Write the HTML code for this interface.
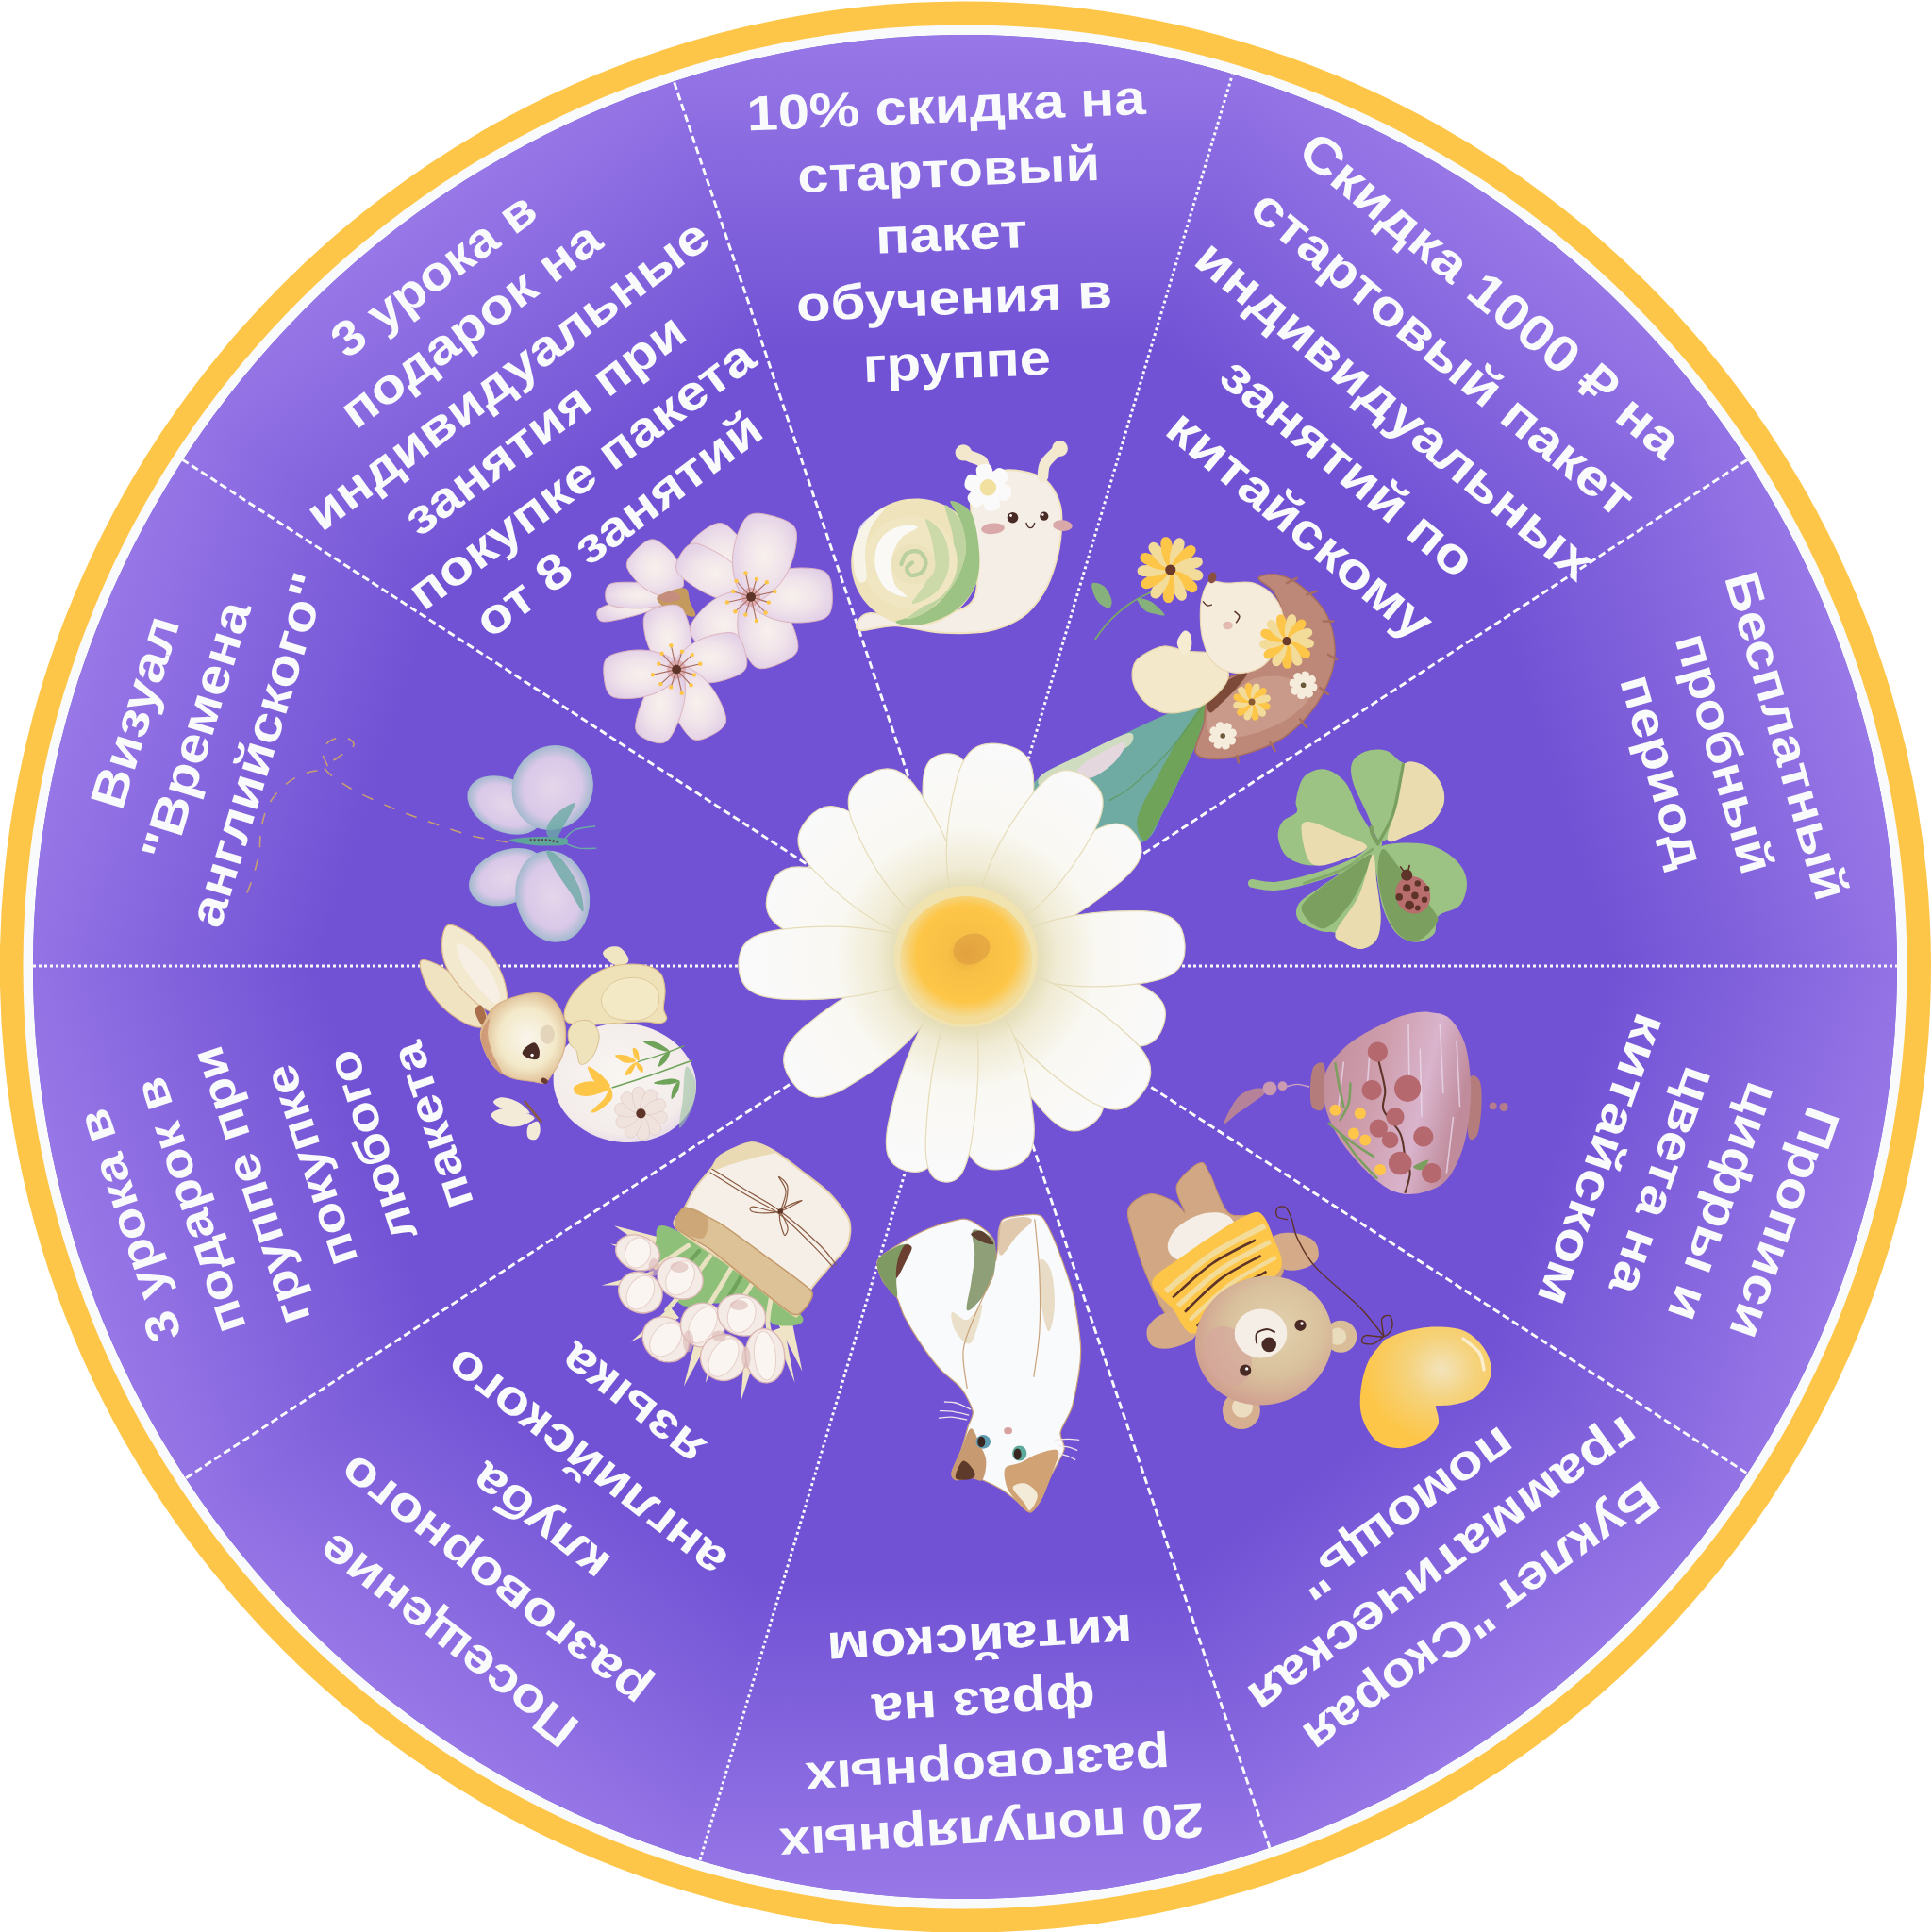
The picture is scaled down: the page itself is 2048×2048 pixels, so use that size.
<!DOCTYPE html>
<html lang="ru"><head><meta charset="utf-8"><title>Колесо подарков</title>
<style>html,body{margin:0;padding:0;background:#fff}body{width:2048px;height:2048px;overflow:hidden}svg{display:block}text{font-family:"Liberation Sans",sans-serif;font-weight:700;fill:#f9fafc}</style></head><body>
<svg width="2048" height="2048" viewBox="0 0 2048 2048">
<defs>
<linearGradient id="s0" gradientUnits="userSpaceOnUse" x1="1023" y1="1025" x2="1962.64" y2="719.69"><stop offset="0" stop-color="#7152d4"/><stop offset="0.66" stop-color="#7152d4"/><stop offset="1" stop-color="#9878e7"/></linearGradient>
<linearGradient id="s1" gradientUnits="userSpaceOnUse" x1="1023" y1="1025" x2="1603.73" y2="225.69"><stop offset="0" stop-color="#7152d4"/><stop offset="0.66" stop-color="#7152d4"/><stop offset="1" stop-color="#9878e7"/></linearGradient>
<linearGradient id="s2" gradientUnits="userSpaceOnUse" x1="1023" y1="1025" x2="1023" y2="37"><stop offset="0" stop-color="#7152d4"/><stop offset="0.66" stop-color="#7152d4"/><stop offset="1" stop-color="#9878e7"/></linearGradient>
<linearGradient id="s3" gradientUnits="userSpaceOnUse" x1="1023" y1="1025" x2="442.27" y2="225.69"><stop offset="0" stop-color="#7152d4"/><stop offset="0.66" stop-color="#7152d4"/><stop offset="1" stop-color="#9878e7"/></linearGradient>
<linearGradient id="s4" gradientUnits="userSpaceOnUse" x1="1023" y1="1025" x2="83.36" y2="719.69"><stop offset="0" stop-color="#7152d4"/><stop offset="0.66" stop-color="#7152d4"/><stop offset="1" stop-color="#9878e7"/></linearGradient>
<linearGradient id="s5" gradientUnits="userSpaceOnUse" x1="1023" y1="1025" x2="83.36" y2="1330.31"><stop offset="0" stop-color="#7152d4"/><stop offset="0.66" stop-color="#7152d4"/><stop offset="1" stop-color="#9878e7"/></linearGradient>
<linearGradient id="s6" gradientUnits="userSpaceOnUse" x1="1023" y1="1025" x2="442.27" y2="1824.31"><stop offset="0" stop-color="#7152d4"/><stop offset="0.66" stop-color="#7152d4"/><stop offset="1" stop-color="#9878e7"/></linearGradient>
<linearGradient id="s7" gradientUnits="userSpaceOnUse" x1="1023" y1="1025" x2="1023" y2="2013"><stop offset="0" stop-color="#7152d4"/><stop offset="0.66" stop-color="#7152d4"/><stop offset="1" stop-color="#9878e7"/></linearGradient>
<linearGradient id="s8" gradientUnits="userSpaceOnUse" x1="1023" y1="1025" x2="1603.73" y2="1824.31"><stop offset="0" stop-color="#7152d4"/><stop offset="0.66" stop-color="#7152d4"/><stop offset="1" stop-color="#9878e7"/></linearGradient>
<linearGradient id="s9" gradientUnits="userSpaceOnUse" x1="1023" y1="1025" x2="1962.64" y2="1330.31"><stop offset="0" stop-color="#7152d4"/><stop offset="0.66" stop-color="#7152d4"/><stop offset="1" stop-color="#9878e7"/></linearGradient>
</defs>
<circle cx="1023.4" cy="1025" r="1023.6" fill="#fdc648"/>
<circle cx="1023" cy="1025" r="998.5" fill="#f9fafc"/>
<circle cx="1023" cy="1025" r="988" fill="#7152d4"/>
<path d="M1023 1025L2010.99 1030.17A988 988 0 0 0 1819.26 440.09Z" fill="url(#s0)"/>
<path d="M1023 1025L1825.34 448.46A988 988 0 0 0 1323.38 83.77Z" fill="url(#s1)"/>
<path d="M1023 1025L1333.22 86.97A988 988 0 0 0 712.78 86.97Z" fill="url(#s2)"/>
<path d="M1023 1025L722.62 83.77A988 988 0 0 0 220.66 448.46Z" fill="url(#s3)"/>
<path d="M1023 1025L226.74 440.09A988 988 0 0 0 35.01 1030.17Z" fill="url(#s4)"/>
<path d="M1023 1025L35.01 1019.83A988 988 0 0 0 226.74 1609.91Z" fill="url(#s5)"/>
<path d="M1023 1025L220.66 1601.54A988 988 0 0 0 722.62 1966.23Z" fill="url(#s6)"/>
<path d="M1023 1025L712.78 1963.03A988 988 0 0 0 1333.22 1963.03Z" fill="url(#s7)"/>
<path d="M1023 1025L1323.38 1966.23A988 988 0 0 0 1825.34 1601.54Z" fill="url(#s8)"/>
<path d="M1023 1025L1819.26 1609.91A988 988 0 0 0 2010.99 1019.83Z" fill="url(#s9)"/>
<g stroke="#f9fafc" fill="none">
<line x1="35" y1="1024" x2="2011" y2="1024" stroke-width="3" stroke-dasharray="3 3"/>
<line x1="197.1" y1="1566.8" x2="1852.8" y2="487.1" stroke-width="2.9" stroke-dasharray="8 4"/>
<line x1="742" y1="1971.7" x2="1306.4" y2="79" stroke-width="3" stroke-dasharray="3 3"/>
<line x1="714.7" y1="87.3" x2="1345.9" y2="1958.7" stroke-width="2.9" stroke-dasharray="8 4"/>
<line x1="193" y1="487" x2="1852.3" y2="1562" stroke-width="2.9" stroke-dasharray="8 4"/>
</g>
<defs><radialGradient id="pg" gradientUnits="userSpaceOnUse" cx="1025" cy="1015" r="240"><stop offset="0.28" stop-color="#e2d9ae"/><stop offset="0.40" stop-color="#f0ebd4"/><stop offset="0.58" stop-color="#f9f8f2"/><stop offset="1" stop-color="#fafafc"/></radialGradient><radialGradient id="dc" cx="0.5" cy="0.45" r="0.5"><stop offset="0" stop-color="#e6a93e"/><stop offset="0.28" stop-color="#f7bf45"/><stop offset="0.75" stop-color="#fdc648"/><stop offset="1" stop-color="#f3dc9a"/></radialGradient><linearGradient id="lg" x1="0" y1="0" x2="1" y2="0.3"><stop offset="0" stop-color="#bf8a98"/><stop offset="0.45" stop-color="#cf9fae"/><stop offset="0.75" stop-color="#d9b4cc"/><stop offset="1" stop-color="#c08c9c"/></linearGradient><radialGradient id="bh" cx="0.6" cy="0.45" r="0.6"><stop offset="0" stop-color="#e3d2ae"/><stop offset="0.6" stop-color="#d9c09c"/><stop offset="1" stop-color="#d0a090"/></radialGradient><radialGradient id="hg" cx="0.62" cy="0.35" r="0.6"><stop offset="0" stop-color="#f3e3bb"/><stop offset="0.45" stop-color="#f5d27a"/><stop offset="1" stop-color="#fdc648"/></radialGradient><radialGradient id="bn" cx="0.55" cy="0.5" r="0.55"><stop offset="0" stop-color="#f9f5ec"/><stop offset="0.6" stop-color="#f3e9c9"/><stop offset="1" stop-color="#dcb88c"/></radialGradient><radialGradient id="eg" cx="0.45" cy="0.45" r="0.6"><stop offset="0" stop-color="#f9f6f2"/><stop offset="0.8" stop-color="#f3ecea"/><stop offset="1" stop-color="#e3d6e6"/></radialGradient><radialGradient id="bw" cx="0.5" cy="0.5" r="0.55"><stop offset="0" stop-color="#e6d6ea"/><stop offset="0.65" stop-color="#d9c8e8"/><stop offset="1" stop-color="#8fb4c4"/></radialGradient><radialGradient id="bp" cx="0.5" cy="0.5" r="0.55"><stop offset="0" stop-color="#f8f1ec"/><stop offset="0.55" stop-color="#f0e3ea"/><stop offset="1" stop-color="#e2cfe6"/></radialGradient></defs>
<g id="leaf">
<path d="M1279.5 743C1274.8 738 1254.9 749.8 1240.8 755.4C1226.7 760.9 1211.2 768.8 1195 776.5C1178.9 784.1 1159.3 793.5 1144 801.1C1128.7 808.7 1112.6 814.3 1103.5 822.2C1094.4 830.2 1087.1 839.5 1089.4 848.6C1091.8 857.7 1103.5 869.2 1117.6 876.8C1131.7 884.4 1157.8 892 1173.9 894.4C1190.1 896.7 1204.4 896.7 1214.4 890.9C1224.4 885 1227.3 870.9 1233.8 859.2C1240.2 847.5 1247.2 832.8 1253.1 820.5C1259 808.2 1264.6 798.2 1269 785.3C1273.4 772.4 1284.2 748 1279.5 743Z" fill="#6faaa3"/>
<path d="M1195 777.4C1185.9 779.4 1159.3 793.6 1144 801.1C1128.7 808.6 1109.7 816.7 1103.5 822.2C1097.4 827.8 1100.9 834.8 1107 834.6C1113.2 834.3 1129.3 825.8 1140.5 820.5C1151.6 815.2 1164.2 808.2 1173.9 802.9C1183.6 797.6 1195 793 1198.6 788.8C1202.1 784.5 1204.1 775.3 1195 777.4Z" fill="#cfdcc0"/>
<path d="M1191.5 787C1186.5 787 1161.3 800.8 1152.8 806.4C1144.3 812 1139.6 817.5 1140.5 820.5C1141.4 823.4 1151 826.3 1158.1 824C1165.1 821.6 1177.1 812.6 1182.7 806.4C1188.3 800.2 1196.5 787 1191.5 787Z" fill="#e4d8de"/>
<path d="M1279.5 743C1282.4 743.9 1273.4 772.4 1269 785.3C1264.6 798.2 1259 808.2 1253.1 820.5C1247.2 832.8 1240.2 847.5 1233.8 859.2C1227.3 870.9 1219.1 889.4 1214.4 890.9C1209.7 892.3 1203.5 879.1 1205.6 868C1207.6 856.8 1219.1 838.7 1226.7 824C1234.3 809.3 1242.6 793.5 1251.4 780C1260.2 766.5 1276.6 742.2 1279.5 743Z" fill="#6fa35a"/>
<path d="M1277.8 744.8C1271.6 753 1254 779.1 1240.8 794.1C1227.6 809 1209.4 825.5 1198.6 834.6C1187.7 843.6 1179.5 846.3 1175.7 848.6" fill="none" stroke="#5f9a62" stroke-width="1.2"/>
</g>
<g id="hedgehog">
<path d="M1225 625.1C1220.6 627.5 1206.8 633.6 1198.6 639.2C1190.3 644.8 1182 652.1 1175.7 658.6C1169.4 665 1163.2 674.7 1160.7 677.9" fill="none" stroke="#7aa868" stroke-width="1.8"/>
<path d="M1158.1 618.1C1160 616.9 1167 618.7 1170.4 621.6C1173.8 624.5 1177.4 631.9 1178.3 635.7C1179.2 639.5 1177.9 643.9 1175.7 644.5C1173.5 645.1 1167.9 641.8 1165.1 639.2C1162.3 636.6 1160.1 632.2 1159 628.6C1157.8 625.1 1156.2 619.3 1158.1 618.1Z" fill="#86b07c"/>
<path d="M1205.6 634.8C1206.8 633.3 1214.8 634.7 1219.7 637.4C1224.5 640.2 1234 649.3 1234.6 651.5C1235.2 653.7 1226.9 651.5 1223.2 650.6C1219.5 649.8 1215.6 648.9 1212.6 646.2C1209.7 643.6 1204.4 636.3 1205.6 634.8Z" fill="#86b07c"/>
<path d="M1243.2 606.1C1249.4 611.7 1258.1 614.3 1267.1 615.4C1272 615.9 1274.7 614 1275.3 611C1275.9 608 1274.1 605.2 1269.5 603.8C1260.7 601.3 1251.7 600.2 1243.9 603Z" fill="#f3dc9a"/>
<path d="M1242 607C1244.8 614.8 1251.3 621.2 1258.8 626.3C1262.9 629 1266.1 628.6 1268.1 626.2C1270 623.8 1269.8 620.6 1266.3 617.1C1259.7 610.8 1252.2 605.7 1244 604.6Z" fill="#fdc648"/>
<path d="M1240.5 607.2C1239.3 615.4 1242.2 624.1 1246.4 632.1C1248.8 636.4 1251.8 637.6 1254.6 636.4C1257.5 635.1 1258.7 632.1 1257.3 627.5C1254.4 618.9 1250.1 610.8 1243.3 606Z" fill="#f3dc9a"/>
<path d="M1239 606.7C1234.2 613.4 1232.7 622.4 1232.7 631.5C1232.8 636.4 1234.9 638.8 1238 639.1C1241.1 639.3 1243.6 637.3 1244.5 632.5C1245.9 623.5 1245.8 614.4 1242.1 606.9Z" fill="#fdc648"/>
<path d="M1238 605.6C1230.5 609.3 1225 616.5 1220.8 624.6C1218.6 629 1219.4 632.1 1222 633.8C1224.6 635.4 1227.8 634.7 1230.8 630.9C1236.3 623.6 1240.4 615.5 1240.6 607.2Z" fill="#f3dc9a"/>
<path d="M1237.6 604.1C1229.3 603.9 1221 607.8 1213.5 613C1209.6 615.8 1208.8 619 1210.3 621.6C1211.9 624.3 1215 625.2 1219.5 623.2C1227.7 619.3 1235.1 614 1239.1 606.7Z" fill="#fdc648"/>
<path d="M1237.9 602.6C1230.6 598.6 1221.5 598.1 1212.5 599.3C1207.7 600 1205.5 602.4 1205.6 605.5C1205.8 608.6 1208.1 610.8 1213 611.1C1222.1 611.4 1231.1 610.3 1238 605.7Z" fill="#f3dc9a"/>
<path d="M1238.9 601.4C1234.3 594.5 1226.5 589.9 1217.9 586.7C1213.3 585 1210.3 586.2 1209 589C1207.7 591.8 1208.7 594.8 1212.9 597.3C1220.8 601.9 1229.3 605 1237.6 604.2Z" fill="#fdc648"/>
<path d="M1240.3 600.8C1239.5 592.5 1234.7 584.8 1228.6 578C1225.3 574.4 1222.1 574 1219.6 575.9C1217.1 577.8 1216.6 581 1219.2 585.1C1224 592.8 1230.1 599.6 1237.9 602.7Z" fill="#f3dc9a"/>
<path d="M1241.9 601C1245 593.2 1244.3 584.2 1242.1 575.3C1240.8 570.6 1238.2 568.8 1235.1 569.3C1232 569.8 1230.1 572.4 1230.4 577.3C1231.2 586.3 1233.4 595.1 1238.8 601.5Z" fill="#fdc648"/>
<path d="M1243.1 601.8C1249.5 596.4 1253.1 588.1 1255.3 579.2C1256.3 574.5 1254.8 571.6 1251.9 570.6C1249 569.6 1246 571 1244 575.5C1240.5 583.9 1238.4 592.7 1240.2 600.8Z" fill="#f3dc9a"/>
<path d="M1243.9 603.2C1252 601.3 1259.1 595.6 1265.1 588.8C1268.3 585.1 1268.3 581.8 1266.1 579.6C1264 577.4 1260.8 577.2 1256.9 580.3C1249.9 586 1243.9 592.9 1241.8 600.9Z" fill="#fdc648"/>
<path d="M1243.9 604.7C1252 606.8 1260.9 605.1 1269.4 601.8C1273.9 600 1275.5 597.1 1274.6 594.2C1273.7 591.2 1270.9 589.6 1266.1 590.5C1257.2 592.3 1248.7 595.6 1243.1 601.7Z" fill="#f3dc9a"/>
<circle cx="1240.8" cy="604" r="5.6" fill="#6b3a2a"/>
<path d="M1334.1 612.8C1335 609.9 1347.3 607.5 1355.2 609.3C1363.1 611 1373.1 616.3 1381.6 623.4C1390.1 630.4 1400.7 641 1406.2 651.5C1411.8 662.1 1414.4 675.6 1415 686.7C1415.6 697.9 1413.9 707.2 1409.8 718.4C1405.6 729.5 1398.6 743 1390.4 753.6C1382.2 764.2 1371.3 774.4 1360.5 781.8C1349.6 789.1 1337 793.8 1325.3 797.6C1313.5 801.4 1299.8 804.6 1290.1 804.6C1280.4 804.6 1269.5 803.8 1267.2 797.6C1264.8 791.4 1273.9 776.8 1276 767.7C1278 758.6 1276.6 750.7 1279.5 743C1282.4 735.4 1285.4 727.8 1293.6 721.9C1301.8 716 1319.4 714.3 1328.8 707.8C1338.2 701.4 1344.9 692.6 1349.9 683.2C1354.9 673.8 1358.7 660.9 1358.7 651.5C1358.7 642.1 1354 633.3 1349.9 626.9C1345.8 620.4 1333.2 615.7 1334.1 612.8Z" fill="#bd8878" stroke="#a86f5e" stroke-width="1.5"/>
<path d="M1307.7 732.5C1316.2 726.6 1322.9 720.7 1332.3 718.4C1341.7 716 1354.6 715.5 1364 718.4C1373.4 721.3 1388.6 728.7 1388.6 736C1388.6 743.3 1375.4 755.1 1364 762.4C1352.6 769.7 1333.2 777.1 1320 780C1306.8 782.9 1291.2 784.4 1284.8 780C1278.3 775.6 1277.5 761.5 1281.3 753.6C1285.1 745.7 1299.2 738.3 1307.7 732.5Z" fill="#c99a8a"/>
<path d="M1279.5 743C1281.9 737.8 1290.1 728.7 1297.1 723.7C1304.2 718.7 1319.4 712.2 1321.8 713.1C1324.1 714 1315.9 723.4 1311.2 729C1306.5 734.5 1298.3 742.2 1293.6 746.6C1288.9 751 1285.4 755.9 1283 755.4C1280.7 754.8 1277.2 748.3 1279.5 743Z" fill="#7d4a3a"/>
<line x1="1364" y1="618.1" x2="1374.6" y2="612.8" stroke="#a86f5e" stroke-width="2.5" stroke-linecap="round"/>
<line x1="1385.1" y1="630.4" x2="1395.7" y2="626.9" stroke="#a86f5e" stroke-width="2.5" stroke-linecap="round"/>
<line x1="1402.7" y1="658.6" x2="1413.3" y2="658.6" stroke="#a86f5e" stroke-width="2.5" stroke-linecap="round"/>
<line x1="1408" y1="693.8" x2="1416.8" y2="699" stroke="#a86f5e" stroke-width="2.5" stroke-linecap="round"/>
<line x1="1399.2" y1="729" x2="1408" y2="736" stroke="#a86f5e" stroke-width="2.5" stroke-linecap="round"/>
<line x1="1378.1" y1="762.4" x2="1385.1" y2="771.2" stroke="#a86f5e" stroke-width="2.5" stroke-linecap="round"/>
<line x1="1346.4" y1="787" x2="1351.7" y2="795.8" stroke="#a86f5e" stroke-width="2.5" stroke-linecap="round"/>
<line x1="1311.2" y1="801.1" x2="1313" y2="808.2" stroke="#a86f5e" stroke-width="2.5" stroke-linecap="round"/>
<path d="M1202.1 704.3C1204 699.3 1207.4 697 1212.6 693.8C1217.9 690.5 1226.1 685.5 1233.8 685C1241.4 684.4 1249.6 688.8 1258.4 690.2C1267.2 691.7 1279.2 689.6 1286.6 693.8C1293.9 697.9 1301.8 707.8 1302.4 714.9C1303 721.9 1296.2 729.8 1290.1 736C1283.9 742.2 1274.8 748.6 1265.4 751.8C1256 755.1 1242.6 756.8 1233.8 755.4C1225 753.9 1218.1 748.3 1212.6 743C1207.2 737.8 1203 730.1 1201.2 723.7C1199.4 717.2 1200.2 709.3 1202.1 704.3Z" fill="#f3e8c9" stroke="#e6d5a8" stroke-width="1.2"/>
<path d="M1247.8 681.4C1247.8 677.3 1252.5 670.6 1254.9 669.1C1257.2 667.6 1260.6 669.7 1261.9 672.6C1263.2 675.6 1264 683.2 1262.8 686.7C1261.6 690.2 1257.4 694.6 1254.9 693.8C1252.4 692.9 1247.8 685.5 1247.8 681.4Z" fill="#f5ecd2"/>
<path d="M1283 616.3C1287.1 614.9 1293 617.8 1300.6 618.1C1308.3 618.4 1320.3 615.4 1328.8 618.1C1337.3 620.7 1346.4 627.2 1351.7 633.9C1357 640.7 1360.2 649.8 1360.5 658.6C1360.8 667.4 1357.5 678.5 1353.4 686.7C1349.3 694.9 1343.5 703.4 1335.8 707.8C1328.2 712.2 1316.2 714.3 1307.7 713.1C1299.2 711.9 1290.4 707.2 1284.8 700.8C1279.2 694.3 1276.3 683.8 1274.2 674.4C1272.2 665 1272.2 652.4 1272.5 644.5C1272.8 636.6 1274.2 631.6 1276 626.9C1277.8 622.2 1278.9 617.8 1283 616.3Z" fill="#f5ecdc" stroke="#ead9b4" stroke-width="1.2"/>
<ellipse cx="1285.1" cy="612.4" rx="4.2" ry="6" fill="#8a5040" transform="rotate(15 1285.1 612.4)"/>
<ellipse cx="1301.5" cy="663" rx="5.3" ry="4.2" fill="#e3b9b0"/>
<path d="M1308.6 648C1309.4 648.9 1313.5 651.2 1313.8 653.3C1314.1 655.3 1310.9 659.1 1310.3 660.3" fill="none" stroke="#5a3428" stroke-width="1.6"/>
<path d="M1275.1 637.4C1275.8 638.2 1277.9 641.3 1279.5 641.8C1281.1 642.4 1283.9 641.1 1284.8 641" fill="none" stroke="#5a3428" stroke-width="1.4"/>
<path d="M1366.1 681.2C1371.6 685.5 1379 686.9 1386.5 687C1390.6 687 1392.6 685.2 1392.9 682.6C1393.2 679.9 1391.5 677.8 1387.5 676.9C1380.1 675.6 1372.6 675.5 1366.4 678.6Z" fill="#f3dc9a"/>
<path d="M1365.2 682C1368.1 688.4 1373.9 693.1 1380.5 696.7C1384.1 698.5 1386.8 697.9 1388.2 695.7C1389.7 693.5 1389.2 690.8 1386.1 688.2C1380.2 683.5 1373.6 680 1366.6 679.8Z" fill="#fdc648"/>
<path d="M1363.9 682.3C1363.5 689.3 1366.6 696.1 1370.7 702.4C1373 705.7 1375.7 706.4 1378 705.1C1380.3 703.8 1381.2 701.2 1379.6 697.5C1376.6 690.6 1372.3 684.4 1366.3 681Z" fill="#f3dc9a"/>
<path d="M1362.7 682C1359.1 688 1358.6 695.5 1359.4 702.9C1359.9 706.9 1361.9 708.8 1364.6 708.7C1367.2 708.7 1369.2 706.7 1369.5 702.7C1370 695.2 1369.2 687.7 1365.4 681.9Z" fill="#fdc648"/>
<path d="M1361.8 681.1C1355.9 684.8 1351.9 691.1 1349.1 698.1C1347.7 701.9 1348.7 704.5 1351 705.7C1353.4 706.8 1356 706.1 1358.2 702.7C1362.1 696.2 1364.8 689.2 1364.2 682.3Z" fill="#f3dc9a"/>
<path d="M1361.4 679.9C1354.4 680.4 1348 684.2 1342.2 689.1C1339.2 691.8 1338.9 694.5 1340.4 696.7C1342 698.8 1344.7 699.3 1348.2 697.3C1354.6 693.5 1360.3 688.5 1362.9 682.1Z" fill="#fdc648"/>
<path d="M1361.5 678.7C1355.2 675.9 1347.7 676.2 1340.4 677.9C1336.4 678.9 1334.9 681.1 1335.2 683.8C1335.6 686.4 1337.8 688.1 1341.8 688C1349.3 687.5 1356.6 685.8 1361.9 681.3Z" fill="#f3dc9a"/>
<path d="M1362.3 677.7C1358 672.2 1351.1 669.1 1343.9 667.1C1340 666.2 1337.5 667.4 1336.6 669.9C1335.7 672.4 1336.8 675 1340.5 676.7C1347.3 679.8 1354.6 681.7 1361.4 680.2Z" fill="#fdc648"/>
<path d="M1363.4 677.1C1362.1 670.3 1357.6 664.3 1352 659.2C1349 656.6 1346.2 656.5 1344.3 658.3C1342.3 660.1 1342.1 662.9 1344.6 666.1C1349.2 672 1354.8 677.1 1361.5 678.9Z" fill="#f3dc9a"/>
<path d="M1364.7 677.1C1366.7 670.5 1365.4 663.1 1362.9 656C1361.4 652.2 1359 650.9 1356.5 651.6C1353.9 652.3 1352.5 654.6 1353.1 658.6C1354.4 666 1357 673.1 1362.1 677.8Z" fill="#fdc648"/>
<path d="M1365.8 677.7C1370.7 672.8 1373 665.6 1374 658.2C1374.5 654.2 1372.9 651.9 1370.4 651.3C1367.8 650.8 1365.4 652.2 1364.1 656C1361.9 663.1 1360.9 670.6 1363.2 677.2Z" fill="#f3dc9a"/>
<path d="M1366.5 678.8C1373.1 676.7 1378.5 671.4 1382.8 665.3C1385.1 662 1384.8 659.3 1382.8 657.5C1380.8 655.8 1378 656 1375.1 658.7C1369.8 664 1365.5 670.2 1364.5 677.1Z" fill="#fdc648"/>
<path d="M1366.6 680C1373.4 681.3 1380.7 679.1 1387.4 675.7C1390.9 673.8 1391.9 671.3 1390.9 668.8C1389.9 666.4 1387.4 665.2 1383.6 666.3C1376.4 668.5 1369.7 672 1365.6 677.6Z" fill="#f3dc9a"/>
<circle cx="1364" cy="679.7" r="4.6" fill="#6b3a2a"/>
<path d="M1328.4 745.4C1331.5 749.3 1336.2 751.3 1341.3 752.4C1344.1 752.9 1345.8 751.8 1346.4 749.9C1347 748 1346.2 746.1 1343.6 745C1338.8 743 1333.7 742 1329 743.5Z" fill="#fdc648"/>
<path d="M1327.5 745.9C1328.2 750.8 1331.3 755 1335.2 758.4C1337.3 760.2 1339.3 760.1 1340.8 758.8C1342.3 757.4 1342.5 755.4 1340.9 753.1C1337.7 749 1333.8 745.6 1329 744.5Z" fill="#f3dc9a"/>
<path d="M1326.4 745.9C1324.6 750.4 1325.2 755.6 1326.8 760.5C1327.8 763.2 1329.5 764.1 1331.5 763.6C1333.5 763.2 1334.7 761.6 1334.4 758.8C1333.7 753.7 1332.1 748.7 1328.4 745.4Z" fill="#fdc648"/>
<path d="M1325.5 745.3C1321.6 748.3 1319.6 753.1 1318.5 758.2C1318 761 1319.1 762.6 1321.1 763.2C1323 763.9 1324.8 763.1 1326 760.5C1328 755.7 1329 750.6 1327.5 745.9Z" fill="#f3dc9a"/>
<path d="M1325.1 744.4C1320.1 745.1 1316 748.2 1312.5 752.1C1310.7 754.2 1310.8 756.2 1312.2 757.7C1313.6 759.2 1315.6 759.4 1317.8 757.8C1321.9 754.6 1325.4 750.7 1326.4 745.9Z" fill="#fdc648"/>
<path d="M1325.1 743.3C1320.5 741.5 1315.3 742.1 1310.4 743.7C1307.8 744.6 1306.8 746.4 1307.3 748.4C1307.7 750.4 1309.3 751.6 1312.1 751.3C1317.3 750.6 1322.2 749 1325.5 745.3Z" fill="#f3dc9a"/>
<path d="M1325.7 742.4C1322.6 738.5 1317.8 736.5 1312.7 735.4C1310 734.9 1308.3 736 1307.7 737.9C1307.1 739.9 1307.9 741.7 1310.4 742.8C1315.2 744.8 1320.3 745.9 1325.1 744.4Z" fill="#fdc648"/>
<path d="M1326.6 741.9C1325.9 737 1322.8 732.9 1318.9 729.4C1316.8 727.6 1314.8 727.7 1313.3 729.1C1311.8 730.4 1311.5 732.4 1313.2 734.7C1316.4 738.8 1320.3 742.3 1325.1 743.3Z" fill="#f3dc9a"/>
<path d="M1327.6 742C1329.5 737.4 1328.9 732.2 1327.2 727.3C1326.3 724.7 1324.5 723.7 1322.5 724.2C1320.6 724.6 1319.4 726.2 1319.7 729C1320.3 734.2 1322 739.1 1325.7 742.4Z" fill="#fdc648"/>
<path d="M1328.5 742.5C1332.4 739.5 1334.5 734.7 1335.5 729.6C1336 726.9 1335 725.2 1333 724.6C1331.1 724 1329.2 724.8 1328.1 727.3C1326.1 732.1 1325.1 737.2 1326.6 741.9Z" fill="#f3dc9a"/>
<path d="M1329 743.5C1333.9 742.8 1338.1 739.6 1341.5 735.8C1343.4 733.7 1343.3 731.7 1341.9 730.2C1340.5 728.7 1338.5 728.4 1336.3 730.1C1332.1 733.2 1328.7 737.1 1327.6 742Z" fill="#fdc648"/>
<path d="M1329 744.5C1333.6 746.4 1338.7 745.7 1343.7 744.1C1346.3 743.2 1347.2 741.4 1346.8 739.4C1346.3 737.4 1344.7 736.2 1341.9 736.5C1336.8 737.2 1331.9 738.9 1328.5 742.5Z" fill="#f3dc9a"/>
<circle cx="1327" cy="743.9" r="3.5" fill="#8a5a30"/>
<path d="M1382.8 727.7C1385.1 731.3 1388.7 732.6 1392.5 732.8C1394.6 732.9 1395.8 731.5 1396.3 729.3C1396.7 727.1 1396.1 725.3 1394.2 724.6C1390.6 723.3 1386.7 723.1 1383.2 725.5Z" fill="#f5ecdc"/>
<path d="M1381.5 728.1C1380.5 732.3 1382.2 735.8 1384.7 738.6C1386.1 740.1 1388 740 1389.9 738.8C1391.7 737.6 1392.6 735.9 1391.7 734C1390.1 730.5 1387.5 727.7 1383.3 726.9Z" fill="#f5ecdc"/>
<path d="M1380.2 727.5C1376.6 729.8 1375.3 733.4 1375.1 737.2C1375 739.3 1376.5 740.5 1378.6 741C1380.8 741.4 1382.6 740.8 1383.4 738.9C1384.6 735.3 1384.8 731.4 1382.4 727.9Z" fill="#f5ecdc"/>
<path d="M1379.8 726.2C1375.6 725.3 1372.1 726.9 1369.3 729.4C1367.8 730.8 1367.9 732.7 1369.1 734.6C1370.3 736.4 1372.1 737.3 1373.9 736.5C1377.4 734.8 1380.2 732.2 1381 728Z" fill="#f5ecdc"/>
<path d="M1380.4 725C1378.1 721.3 1374.5 720 1370.7 719.8C1368.6 719.7 1367.4 721.2 1366.9 723.3C1366.5 725.5 1367.1 727.3 1369 728.1C1372.6 729.3 1376.5 729.5 1380 727.1Z" fill="#f5ecdc"/>
<path d="M1381.7 724.5C1382.6 720.3 1381 716.9 1378.5 714C1377.1 712.5 1375.2 712.6 1373.3 713.8C1371.5 715.1 1370.6 716.8 1371.5 718.7C1373.1 722.1 1375.7 725 1379.9 725.7Z" fill="#f5ecdc"/>
<path d="M1382.9 725.2C1386.6 722.8 1387.9 719.2 1388.1 715.4C1388.2 713.4 1386.7 712.1 1384.6 711.7C1382.4 711.2 1380.6 711.8 1379.8 713.7C1378.6 717.4 1378.4 721.2 1380.8 724.7Z" fill="#f5ecdc"/>
<path d="M1383.4 726.5C1387.6 727.4 1391 725.8 1393.9 723.2C1395.4 721.8 1395.3 719.9 1394.1 718C1392.8 716.2 1391.1 715.3 1389.2 716.2C1385.8 717.8 1382.9 720.4 1382.2 724.6Z" fill="#f5ecdc"/>
<circle cx="1381.6" cy="726.3" r="2.8" fill="#6b5a3a"/>
<path d="M1296.9 781.6C1298.1 785.8 1301.1 788.1 1304.7 789.4C1306.7 790.1 1308.3 789.1 1309.4 787.2C1310.4 785.2 1310.4 783.3 1308.8 782C1305.7 779.7 1302.1 778.4 1298 779.7Z" fill="#f5ecdc"/>
<path d="M1295.6 781.7C1293.5 785.4 1294 789.2 1295.6 792.7C1296.5 794.5 1298.3 795 1300.4 794.3C1302.6 793.7 1303.9 792.3 1303.7 790.3C1303.1 786.5 1301.5 783 1297.7 781Z" fill="#f5ecdc"/>
<path d="M1294.6 780.7C1290.5 781.8 1288.1 784.9 1286.8 788.5C1286.1 790.4 1287.1 792.1 1289.1 793.1C1291 794.2 1292.9 794.1 1294.2 792.5C1296.5 789.5 1297.8 785.8 1296.5 781.8Z" fill="#f5ecdc"/>
<path d="M1294.6 779.3C1290.8 777.2 1287 777.7 1283.6 779.3C1281.7 780.2 1281.3 782.1 1281.9 784.2C1282.5 786.3 1283.9 787.7 1285.9 787.4C1289.7 786.9 1293.2 785.2 1295.2 781.4Z" fill="#f5ecdc"/>
<path d="M1295.5 778.4C1294.4 774.2 1291.3 771.9 1287.7 770.5C1285.8 769.9 1284.2 770.9 1283.1 772.8C1282 774.8 1282.1 776.7 1283.7 778C1286.8 780.2 1290.4 781.6 1294.5 780.3Z" fill="#f5ecdc"/>
<path d="M1296.9 778.3C1299 774.6 1298.5 770.8 1296.9 767.3C1296 765.5 1294.1 765 1292 765.6C1289.9 766.3 1288.6 767.6 1288.8 769.7C1289.4 773.5 1291 777 1294.8 779Z" fill="#f5ecdc"/>
<path d="M1297.9 779.3C1302 778.1 1304.3 775.1 1305.7 771.5C1306.3 769.6 1305.3 767.9 1303.4 766.9C1301.5 765.8 1299.6 765.8 1298.3 767.5C1296 770.5 1294.7 774.1 1295.9 778.2Z" fill="#f5ecdc"/>
<path d="M1297.9 780.7C1301.6 782.8 1305.4 782.2 1308.9 780.7C1310.8 779.8 1311.2 777.9 1310.6 775.8C1310 773.7 1308.6 772.3 1306.5 772.6C1302.7 773.1 1299.3 774.7 1297.3 778.5Z" fill="#f5ecdc"/>
<circle cx="1296.2" cy="780" r="2.8" fill="#6b5a3a"/>
</g>
<g id="big_daisy">
<path d="M989.4 1025.2C939.5 1027.9 892.4 1054.6 851.1 1089.7C829.4 1109 824 1124.7 839 1146C854 1167.3 870.6 1167.5 896.1 1153.6C943 1126.5 984 1091.2 1003.4 1045.1Z" fill="url(#pg)" stroke="#e6dcb8" stroke-width="1.2"/>
<path d="M995.6 992.7C964.8 955.7 916.9 934 865.9 921.4C838.4 915.2 823 919.7 815 943C807 966.3 816.4 979.3 841.9 991.3C890 1012.7 941.1 1024.9 988.1 1014.6Z" fill="url(#pg)" stroke="#e6dcb8" stroke-width="1.2"/>
<path d="M1058.9 1002.2C1104.3 994.9 1148.9 967.6 1188.8 933.9C1209.9 915.4 1216 901.5 1204 885C1192 868.5 1177 869.9 1152.9 884.3C1108.4 911.8 1068.7 945.8 1047.7 986.7Z" fill="url(#pg)" stroke="#e6dcb8" stroke-width="1.2"/>
<path d="M1054.5 1036.6C1085.4 1071.7 1132.9 1093.2 1183.3 1106.4C1210.5 1112.9 1225.5 1109.3 1233 1088C1240.5 1066.7 1231 1054.5 1205.7 1042.6C1158.1 1021.4 1107.6 1008.5 1061.5 1016.6Z" fill="url(#pg)" stroke="#e6dcb8" stroke-width="1.2"/>
<path d="M1037.7 1049.2C1044.4 1095.2 1071.9 1139.5 1106.3 1178.8C1125.2 1199.5 1139.5 1205 1157 1192C1174.5 1179 1173.3 1163.6 1158.8 1139.7C1131 1095.5 1096.3 1056.5 1054.1 1036.9Z" fill="url(#pg)" stroke="#e6dcb8" stroke-width="1.2"/>
<path d="M1005.8 1045.9C973 1082.3 953.4 1135 941.7 1189.9C936 1219.5 939.7 1235.2 960 1241C980.3 1246.8 991.8 1235.6 1002.6 1207.4C1021.9 1154.7 1033.3 1099.6 1024.8 1051.4Z" fill="url(#pg)" stroke="#e6dcb8" stroke-width="1.2"/>
<path d="M1029.7 979.3C1043.7 937.3 1041.8 886.2 1032.7 835.8C1027.4 808.9 1019.2 797 1001 799C982.8 801 977.4 814.5 978.1 841.9C980.4 893 989.7 943.3 1012.6 981.2Z" fill="url(#pg)" stroke="#e6dcb8" stroke-width="1.2"/>
<path d="M989.6 1004.8C943.1 981.4 885 978.6 827.2 985.4C796.2 989.6 782.1 999.4 783 1024C783.9 1048.6 798.8 1057.3 829.9 1059.2C888.1 1061.7 945.8 1054.5 990.5 1027.8Z" fill="url(#pg)" stroke="#e6dcb8" stroke-width="1.2"/>
<path d="M1006.2 983.3C991.2 937.1 954.6 898.6 911.6 867.4C888.2 851.1 872.2 849.4 856 868C839.8 886.6 843.7 902.2 863.1 923.2C900 961.4 943.2 992.3 991 1000.7Z" fill="url(#pg)" stroke="#e6dcb8" stroke-width="1.2"/>
<path d="M1019.1 978.4C1022.9 929.9 1002.8 881.7 973.8 838.3C957.7 815.4 942.9 808.6 920 821C897.1 833.4 894.7 849.5 905.1 875.5C925.5 923.5 954.9 966.7 997.6 990Z" fill="url(#pg)" stroke="#e6dcb8" stroke-width="1.2"/>
<path d="M1043.4 982.5C1077.8 944.9 1092.1 892.2 1095.7 837.8C1097.1 808.5 1089.1 793.4 1062 789C1034.9 784.6 1022.5 796.3 1014.5 824.5C1000.6 877.2 997.3 931.8 1018 978.4Z" fill="url(#pg)" stroke="#e6dcb8" stroke-width="1.2"/>
<path d="M1054.3 992.4C1099.4 971.1 1133.8 928.6 1160 880.7C1173.5 854.6 1173.1 838 1152 824C1130.9 810 1115.4 816 1096.7 838.6C1062.6 881.2 1036.7 929.4 1034.5 979.3Z" fill="url(#pg)" stroke="#e6dcb8" stroke-width="1.2"/>
<path d="M1060.7 1024.7C1105.3 1047.8 1160.6 1049.6 1215.2 1041.6C1244.4 1036.6 1257.5 1026.3 1256 1001C1254.5 975.7 1240.2 967 1210.6 965.7C1155.4 964.3 1100.8 972.7 1059.2 1001Z" fill="url(#pg)" stroke="#e6dcb8" stroke-width="1.2"/>
<path d="M1044.8 1046.5C1062.7 1095 1103.4 1133.8 1150.6 1164.4C1176.3 1180.3 1193.5 1181.1 1210 1160C1226.5 1138.9 1221.7 1122.4 1200.1 1101.3C1159.1 1062.8 1111.7 1032.5 1060.3 1026.7Z" fill="url(#pg)" stroke="#e6dcb8" stroke-width="1.2"/>
<path d="M1019.1 1051.6C1000.5 1098 1004.8 1152 1019.1 1204.2C1027.4 1232 1039.4 1243.6 1065 1239C1090.6 1234.4 1097.9 1219.4 1096 1190.4C1091.3 1136.5 1076.7 1084.4 1043.2 1047.3Z" fill="url(#pg)" stroke="#e6dcb8" stroke-width="1.2"/>
<path d="M1013.9 1049.1C993.1 1092.1 984.1 1148.7 981.3 1205.9C980.3 1236.5 984.9 1251.4 1001 1253C1017.1 1254.6 1024.6 1241 1029.7 1210.7C1038.4 1154.2 1040.9 1096.9 1029 1050.6Z" fill="url(#pg)" stroke="#e6dcb8" stroke-width="1.2"/>
<ellipse cx="1024" cy="1014" rx="76" ry="75" fill="#f1e3b0"/>
<ellipse cx="1024" cy="1018" rx="70" ry="68" fill="url(#dc)"/>
<ellipse cx="1030" cy="1006" rx="20" ry="16" fill="#dfa040" transform="rotate(-20 1030 1006)" opacity="0.7"/>
</g>
<g id="snail">
<path d="M1029.3 541.4C1028.6 526.2 1028.6 522.1 1032.2 515.4C1035.8 508.6 1042.6 503.5 1051 500.9C1059.5 498.2 1073.2 498 1082.9 499.4C1092.6 500.9 1102.2 503.8 1109 509.6C1115.7 515.4 1120.8 525.3 1123.5 534.2C1126.1 543.1 1125.7 552.8 1124.9 563.2C1124.2 573.6 1122.3 585.7 1119.1 596.5C1116 607.4 1112.1 618.7 1106.1 628.4C1100 638.1 1092.8 647.7 1082.9 654.5C1073 661.3 1061.2 666.3 1046.7 669C1032.2 671.6 1012.1 671.4 995.9 670.4C979.8 669.5 963.3 663.6 949.6 663.2C935.8 662.8 920.1 668.7 913.3 668.3C906.6 667.8 907.5 663.3 909 660.3C910.4 657.3 912.4 651.1 922 650.1C931.7 649.2 949.8 655.7 967 654.5C984.1 653.3 1013.3 650.9 1024.9 642.9C1036.5 634.9 1035.8 623.6 1036.5 606.7C1037.2 589.8 1030 556.7 1029.3 541.4Z" fill="#f5eee6" stroke="#f0e3bd" stroke-width="2"/>
<path d="M1043.8 500.9C1043.3 498.9 1043.5 492.2 1040.9 489.3C1038.2 486.4 1031.4 485 1027.8 483.5C1024.2 481.9 1020.6 480.5 1019.1 479.9" fill="none" stroke="#f3e9d0" stroke-width="12.3" stroke-linecap="round"/>
<circle cx="1021.3" cy="479.9" r="8.7" fill="#f3e8cc"/>
<path d="M1105.4 505.2C1105.7 503 1105.5 496.3 1107.5 492.2C1109.6 488.1 1115 483.2 1117.7 480.6C1120.3 477.9 1122.5 477 1123.5 476.2" fill="none" stroke="#f3e9d0" stroke-width="11.6" stroke-linecap="round"/>
<circle cx="1123.5" cy="475.5" r="8.4" fill="#f3e8cc"/>
<ellipse cx="970.6" cy="595.8" rx="68.4" ry="67.4" fill="#efe3bb" transform="rotate(-8 970.6 595.8)"/>
<path d="M1007.5 531.3C1009.2 529.5 1024.2 534.7 1029.3 543.6C1034.3 552.6 1037.2 572 1038 584.9C1038.7 597.9 1038.2 610.5 1033.6 621.2C1029 631.8 1020.3 641.8 1010.4 648.7C1000.5 655.6 984.3 660.8 974.2 662.5C964.1 664.2 947.9 661.4 949.6 658.8C951.3 656.3 974.2 653.8 984.3 647.2C994.5 640.7 1003.9 629.9 1010.4 619.7C1017 609.6 1022 597.2 1023.5 586.4C1024.9 575.5 1021.8 563.7 1019.1 554.5C1016.5 545.3 1005.8 533.1 1007.5 531.3Z" fill="#9cc384"/>
<path d="M1001.7 535.7C1003.2 533 1015.5 546 1019.1 554.5C1022.8 562.9 1024.9 575.5 1023.5 586.4C1022 597.2 1017 609.6 1010.4 619.7C1003.9 629.9 992.6 641.2 984.3 647.2C976.1 653.3 960.2 658.4 961.2 655.9C962.1 653.5 982.4 641.7 990.1 632.8C997.9 623.8 1004.2 612.7 1007.5 602.3C1010.9 591.9 1011.4 581.5 1010.4 570.4C1009.5 559.3 1000.3 538.3 1001.7 535.7Z" fill="#bfd4a0"/>
<ellipse cx="964.8" cy="595.8" rx="50" ry="48.6" fill="#f1e6c2" transform="rotate(-8 964.8 595.8)"/>
<path d="M981.4 550.1C983.6 549.7 996.2 559.3 1000.3 567.5C1004.4 575.7 1007.3 589.5 1006.1 599.4C1004.9 609.3 999.6 620.2 993 627C986.5 633.7 969.1 641.2 967 640C964.8 638.8 976.1 627 980 619.7C983.9 612.5 988.9 604.7 990.1 596.5C991.4 588.3 988.7 578.2 987.2 570.4C985.8 562.7 979.3 550.6 981.4 550.1Z" fill="#c3d6a2" stroke="none" opacity="0.8"/>
<path d="M927.8 586.4C929 579.9 931.9 572.4 936.5 567.5C941.1 562.7 949.3 558.8 955.4 557.4C961.4 555.9 972.8 556.7 972.8 558.8C972.8 561 960 564.9 955.4 570.4C950.8 576 946.4 584.2 945.2 592.2C944 600.1 945.5 611.5 948.1 618.3C950.8 625 962.4 631.5 961.2 632.8C960 634 946.2 629.9 940.9 625.5C935.6 621.2 931.4 613.2 929.3 606.7C927.1 600.1 926.6 592.9 927.8 586.4Z" fill="#faf9f6"/>
<ellipse cx="968.4" cy="598" rx="23.2" ry="21.7" fill="#ece3bd"/>
<path d="M955.4 598C956.3 596 958 588.6 961.2 586.4C964.3 584.2 970.8 583.5 974.2 584.9C977.6 586.4 981 591.4 981.4 595.1C981.9 598.7 979.8 604.3 977.1 606.7C974.4 609.1 968.2 610.3 965.5 609.6C962.9 608.8 960.9 604.5 961.2 602.3C961.4 600.1 966 597.5 967 596.5" fill="none" stroke="#b9cf9c" stroke-width="4.3" stroke-linecap="round"/>
<path d="M904.6 584.9C905.5 575.3 907.8 563.7 913.3 555.9C918.9 548.2 936.3 538.1 938 538.6C939.7 539 927 551.1 923.5 558.8C920 566.6 917.8 575.7 917 584.9C916.1 594.1 919.9 609.1 918.4 613.9C917 618.7 910.6 618.7 908.3 613.9C906 609.1 903.8 594.6 904.6 584.9Z" fill="#f9f7f2" stroke="none" opacity="0.8"/>
<path d="M1050.9 520.2C1053.5 527.4 1058.8 530.2 1064.7 530.9C1068 531.2 1070.3 528.5 1071.6 524.3C1072.9 520.1 1072.5 516.6 1069.7 515C1064.4 512.2 1058.4 511.6 1052.2 516Z" fill="#fafafa"/>
<path d="M1046.2 521.5C1041.3 527.4 1041.5 533.4 1043.8 538.9C1045.2 541.8 1048.8 542.5 1053 541.5C1057.3 540.6 1060.2 538.4 1060.1 535.2C1059.8 529.2 1057.4 523.7 1050.5 520.6Z" fill="#fafafa"/>
<path d="M1042.7 518.2C1035.2 516.8 1030.1 520 1026.5 524.8C1024.7 527.4 1025.8 530.8 1028.8 534C1031.8 537.3 1035.1 538.7 1037.9 537C1042.9 533.8 1046.4 529 1045.7 521.4Z" fill="#fafafa"/>
<path d="M1043.9 513.4C1041.3 506.3 1036 503.4 1030 502.7C1026.8 502.4 1024.5 505.1 1023.2 509.3C1021.9 513.5 1022.3 517.1 1025.1 518.7C1030.4 521.4 1036.4 522.1 1042.6 517.6Z" fill="#fafafa"/>
<path d="M1048.5 512.1C1053.5 506.2 1053.3 500.2 1050.9 494.7C1049.6 491.8 1046 491.1 1041.8 492.1C1037.5 493 1034.6 495.2 1034.7 498.4C1034.9 504.4 1037.3 509.9 1044.3 513.1Z" fill="#fafafa"/>
<path d="M1052.1 515.5C1059.6 516.8 1064.7 513.6 1068.3 508.8C1070.1 506.2 1069 502.8 1066 499.6C1063 496.4 1059.7 495 1056.9 496.6C1051.9 499.8 1048.4 504.7 1049.1 512.3Z" fill="#fafafa"/>
<circle cx="1047.4" cy="516.8" r="8.7" fill="#f1e0a0"/>
<circle cx="1073.5" cy="548.7" r="5.8" fill="#4a2a25"/>
<circle cx="1106.8" cy="547.2" r="4.6" fill="#4a2a25"/>
<circle cx="1071.6" cy="546.5" r="1.4" fill="#fff"/>
<circle cx="1105.4" cy="545.5" r="1.2" fill="#fff"/>
<ellipse cx="1052.5" cy="560.3" rx="12.3" ry="5.8" fill="#d9a8a8" transform="rotate(-5 1052.5 560.3)"/>
<ellipse cx="1126.4" cy="557.1" rx="10.4" ry="5.8" fill="#d9a8a8" transform="rotate(5 1126.4 557.1)"/>
<path d="M1088 554.5C1088.3 555.2 1089.1 558.1 1090.1 558.8C1091.2 559.6 1093.4 559.6 1094.5 558.8C1095.6 558.1 1096.3 555.2 1096.7 554.5" fill="none" stroke="#4a2a25" stroke-width="1.4" stroke-linecap="round"/>
</g>
<g id="clover">
<path d="M1460.7 894.3C1457.3 897.2 1451.1 905.9 1440.4 911.7C1429.8 917.5 1411.4 924.5 1397 929.1C1382.5 933.7 1365.1 938.1 1353.5 939.3C1341.9 940.5 1331.7 936.9 1327.4 936.4" fill="none" stroke="#9cc384" stroke-width="9" stroke-linecap="round"/>
<path d="M1454.9 900.1C1450.1 903.5 1438 914.4 1425.9 920.4C1413.9 926.5 1389.7 933.7 1382.5 936.4" fill="none" stroke="#7a9f5e" stroke-width="2.9" stroke-linecap="round" opacity="0.7"/>
<path d="M1457.8 891.4C1456.6 884.7 1445.7 870 1440.4 859.6C1435.1 849.2 1432 836.5 1425.9 829.1C1419.9 821.8 1411.4 816.3 1404.2 815.4C1397 814.4 1387.5 817.9 1382.5 823.3C1377.4 828.8 1375.1 841.7 1373.8 848C1372.4 854.3 1376.9 857.1 1374.5 861C1372.1 864.9 1362.5 866.6 1359.3 871.2C1356 875.7 1354 882.3 1354.9 888.6C1355.9 894.8 1359 904 1365.1 908.8C1371.1 913.7 1381 917.3 1391.2 917.5C1401.3 917.8 1416.5 913.2 1425.9 910.3C1435.4 907.4 1442.4 903.3 1447.7 900.1C1453 897 1459 898.2 1457.8 891.4Z" fill="#9cc384"/>
<path d="M1449.1 897.2C1447.9 892.7 1428.8 887.1 1418.7 882.8C1408.6 878.4 1394.8 871.6 1388.3 871.2C1381.7 870.7 1379.1 872.4 1379.6 879.9C1380 887.3 1383.4 911 1391.2 916.1C1398.9 921.2 1416.3 913.4 1425.9 910.3C1435.6 907.1 1450.3 901.8 1449.1 897.2Z" fill="#eadcae"/>
<path d="M1460.7 890C1457.1 885.4 1453.5 872.4 1449.1 862.5C1444.8 852.6 1437.3 839.5 1434.6 830.6C1432 821.6 1431 814.5 1433.2 808.8C1435.4 803.2 1441.6 798.7 1447.7 796.5C1453.7 794.3 1462.8 793.7 1469.4 795.8C1476.1 797.9 1480.8 806.2 1487.5 808.8C1494.3 811.5 1503.4 808.1 1510 811.7C1516.6 815.4 1524 823.8 1527.4 830.6C1530.8 837.3 1532.2 845.1 1530.3 852.3C1528.4 859.6 1522.3 868.5 1515.8 874.1C1509.3 879.6 1498.6 883 1491.2 885.7C1483.7 888.3 1475.9 889.3 1470.9 890C1465.8 890.7 1464.3 894.6 1460.7 890Z" fill="#9cc384"/>
<path d="M1470.9 890C1469.4 883.7 1479.6 861.3 1482.5 848C1485.4 834.7 1483.7 816.3 1488.3 810.3C1492.9 804.3 1503.5 808.4 1510 811.7C1516.5 815.1 1524 823.8 1527.4 830.6C1530.8 837.3 1532.2 845.1 1530.3 852.3C1528.4 859.6 1522.3 868.5 1515.8 874.1C1509.3 879.6 1498.6 883 1491.2 885.7C1483.7 888.3 1472.3 896.3 1470.9 890Z" fill="#eadcae"/>
<path d="M1465.8 896.5C1471.6 894.5 1482.1 893.5 1491.2 893.6C1500.2 893.7 1511.2 894 1520.1 897.2C1529.1 900.5 1539 906.9 1544.8 913.2C1550.6 919.5 1554.4 927.2 1554.9 934.9C1555.4 942.7 1552.8 953.5 1547.7 959.6C1542.6 965.6 1529.1 966.1 1524.5 971.2C1519.9 976.2 1524 985.4 1520.1 990C1516.3 994.6 1507.8 998.7 1501.3 998.7C1494.8 998.7 1486.8 995.8 1481 990C1475.2 984.2 1470.1 974.3 1466.5 963.9C1462.9 953.5 1461 937.3 1459.3 927.7C1457.6 918 1455.3 911.1 1456.4 905.9C1457.5 900.7 1460 898.6 1465.8 896.5Z" fill="#9cc384"/>
<path d="M1465.8 900.1C1469.7 898.7 1475.1 909.8 1483.9 920.4C1492.7 931.1 1512.2 954.3 1518.7 963.9C1525.2 973.6 1525.7 972.9 1523 978.4C1520.4 984 1509.3 995.1 1502.8 997.2C1496.2 999.4 1489.5 996.3 1483.9 991.4C1478.4 986.6 1473.3 978.6 1469.4 968.3C1465.6 957.9 1461.3 940.5 1460.7 929.1C1460.1 917.8 1461.9 901.6 1465.8 900.1Z" fill="#7a9f5e"/>
<path d="M1469.4 900.1C1470.6 896.3 1487.3 898 1498.4 900.1C1509.5 902.3 1527.4 907.4 1536.1 913.2C1544.8 919 1549.6 927.7 1550.6 934.9C1551.5 942.2 1546.5 951.6 1541.9 956.7C1537.3 961.7 1531.5 970.9 1523 965.4C1514.6 959.8 1500.1 934.2 1491.2 923.3C1482.2 912.5 1468.2 904 1469.4 900.1Z" fill="#9cc384"/>
<path d="M1454.9 904.5C1449.9 902.1 1438.5 914.2 1428.8 920.4C1419.2 926.7 1405.7 935.9 1397 942.2C1388.3 948.5 1380 952.6 1376.7 958.1C1373.3 963.7 1372.8 970.7 1376.7 975.5C1380.5 980.3 1393.6 984.9 1399.9 987.1C1406.1 989.3 1410 986.4 1414.3 988.6C1418.7 990.7 1421.1 997.2 1425.9 1000.1C1430.8 1003 1437.8 1006.7 1443.3 1005.9C1448.9 1005.2 1455.9 1001.6 1459.3 995.8C1462.7 990 1463.6 981.3 1463.6 971.2C1463.6 961 1460.7 946 1459.3 934.9C1457.8 923.8 1460 906.9 1454.9 904.5Z" fill="#9cc384"/>
<path d="M1453.5 905.9C1450.3 904.5 1435.4 917.1 1425.9 923.3C1416.5 929.6 1404.7 936.9 1397 943.6C1389.2 950.4 1378.6 957.1 1379.6 963.9C1380.5 970.7 1394.5 984.7 1402.8 984.2C1411 983.7 1421.8 969.7 1428.8 961C1435.8 952.3 1440.7 941.2 1444.8 932C1448.9 922.9 1456.6 907.4 1453.5 905.9Z" fill="#7a9f5e"/>
<path d="M1454.9 905.9C1451.8 908.4 1447 935.7 1440.4 949.4C1433.9 963.2 1418.2 980.1 1415.8 988.6C1413.4 997 1421.4 997.2 1425.9 1000.1C1430.5 1003 1437.8 1006.7 1443.3 1005.9C1448.9 1005.2 1455.9 1001.6 1459.3 995.8C1462.7 990 1463.6 981.3 1463.6 971.2C1463.6 961 1460.7 945.8 1459.3 934.9C1457.8 924.1 1458.1 903.5 1454.9 905.9Z" fill="#eadcae"/>
<path d="M1460.7 894.3C1463.4 889 1472.2 876.5 1476.7 862.5C1481.1 848.5 1485.7 819 1487.5 810.3" fill="none" stroke="#7a9f5e" stroke-width="3.2" stroke-linecap="round"/>
<path d="M1460.7 894.3C1459.8 892.7 1456.1 887.1 1454.9 884.2C1453.7 881.3 1453.7 878.2 1453.5 877" fill="none" stroke="#7a9f5e" stroke-width="4.3" stroke-linecap="round"/>
<ellipse cx="1497.7" cy="948.7" rx="18.1" ry="20.3" fill="#b96e6e" transform="rotate(-25 1497.7 948.7)"/>
<circle cx="1491.2" cy="927.7" r="6.1" fill="#5e3428"/>
<circle cx="1491.2" cy="941.4" r="4.1" fill="#5e3428"/>
<circle cx="1502.8" cy="936.4" r="3.2" fill="#5e3428"/>
<circle cx="1512.2" cy="942.2" r="3.2" fill="#5e3428"/>
<circle cx="1499.9" cy="949.4" r="3.8" fill="#5e3428"/>
<circle cx="1510" cy="953.8" r="3.2" fill="#5e3428"/>
<circle cx="1494.1" cy="959.6" r="4.9" fill="#5e3428"/>
<circle cx="1483.2" cy="950.9" r="3.8" fill="#5e3428"/>
<circle cx="1502.8" cy="962.5" r="2.9" fill="#5e3428"/>
<path d="M1489 924.8L1484.6 919" fill="none" stroke="#5e3428" stroke-width="1.7" stroke-linecap="round"/>
<path d="M1492.6 924.1L1494.1 917.5" fill="none" stroke="#5e3428" stroke-width="1.7" stroke-linecap="round"/>
</g>
<g id="lantern">
<path d="M1338.1 1153.8C1335.4 1153.1 1328.7 1153.5 1324 1155.6C1319.3 1157.6 1314.3 1160.3 1309.9 1166.2C1305.5 1172 1297.3 1188.4 1297.6 1190.8C1297.9 1193.1 1306.4 1184 1311.7 1180.2C1317 1176.4 1324.6 1171.3 1329.3 1167.9C1334 1164.5 1338.4 1162.3 1339.8 1160C1341.3 1157.6 1340.7 1154.6 1338.1 1153.8Z" fill="#b5829a"/>
<path d="M1362.7 1152.1C1364.8 1151.6 1370.8 1149.4 1375 1149.4C1379.3 1149.4 1386 1151.6 1388.2 1152.1" fill="none" stroke="#cfa6c0" stroke-width="1.4"/>
<circle cx="1346" cy="1153.8" r="7.4" fill="#c99ab0"/>
<circle cx="1359.5" cy="1151.2" r="4.9" fill="#c99ab0"/>
<path d="M1392.6 1131C1395.1 1127.3 1402.3 1123 1404.1 1130.1C1405.8 1137.1 1405.4 1166 1403.2 1173.2C1401 1180.4 1393.2 1176.7 1390.9 1173.2C1388.5 1169.7 1388.8 1159.1 1389.1 1152.1C1389.4 1145 1390.1 1134.6 1392.6 1131Z" fill="#b57c7c"/>
<path d="M1557.2 1145C1559.2 1135.7 1566.4 1141.2 1568.6 1145.9C1570.8 1150.6 1570.8 1163.7 1570.4 1173.2C1570 1182.7 1568.3 1198.3 1566 1203.1C1563.6 1208 1557.8 1211.9 1556.3 1202.2C1554.8 1192.6 1555.1 1154.4 1557.2 1145Z" fill="#b57c7c"/>
<circle cx="1582.7" cy="1172.3" r="3.9" fill="#b57c8c"/>
<circle cx="1594.1" cy="1173.5" r="4.6" fill="#b57c8c"/>
<path d="M1515.8 1072.9C1522.9 1073.8 1530.8 1074.3 1537 1079.9C1543.1 1085.5 1549.1 1094.9 1552.8 1106.3C1556.5 1117.8 1558.4 1134.5 1559 1148.6C1559.5 1162.6 1558.2 1177.9 1556.3 1190.8C1554.4 1203.7 1551.9 1215.4 1547.5 1226C1543.1 1236.6 1537.8 1247.6 1529.9 1254.2C1522 1260.8 1509.4 1264.4 1500 1265.6C1490.6 1266.8 1482.4 1265.4 1473.6 1261.2C1464.8 1256.9 1456 1248.9 1447.2 1240.1C1438.4 1231.3 1427.7 1219 1420.8 1208.4C1413.9 1197.8 1408.8 1186.7 1405.8 1176.7C1402.9 1166.7 1402.5 1156.8 1403.2 1148.6C1403.9 1140.3 1405 1135.1 1410.2 1127.4C1415.5 1119.8 1424.9 1110.1 1434.9 1102.8C1444.8 1095.5 1460.1 1088.1 1470.1 1083.4C1480 1078.7 1487.1 1076.4 1494.7 1074.6C1502.3 1072.9 1508.8 1072 1515.8 1072.9Z" fill="url(#lg)"/>
<line x1="1493" y1="1085.2" x2="1493.8" y2="1141.5" stroke="#ead8ea" stroke-width="1.6" opacity="0.8"/>
<line x1="1526.4" y1="1085.2" x2="1529.9" y2="1159.1" stroke="#ead8ea" stroke-width="1.6" opacity="0.8"/>
<line x1="1544" y1="1102.8" x2="1547.5" y2="1173.2" stroke="#ead8ea" stroke-width="1.6" opacity="0.8"/>
<line x1="1505.3" y1="1111.6" x2="1507" y2="1183.8" stroke="#ead8ea" stroke-width="1.6" opacity="0.8"/>
<line x1="1540.5" y1="1183.8" x2="1533.4" y2="1243.6" stroke="#ead8ea" stroke-width="1.6" opacity="0.8"/>
<line x1="1424.3" y1="1125.7" x2="1419" y2="1173.2" stroke="#ead8ea" stroke-width="1.6" opacity="0.8"/>
<line x1="1452.5" y1="1108.1" x2="1449" y2="1155.6" stroke="#ead8ea" stroke-width="1.6" opacity="0.8"/>
<path d="M1461.3 1123.9C1462.4 1129.2 1467.4 1146.8 1468.3 1155.6C1469.2 1164.4 1463.9 1169.1 1466.6 1176.7C1469.2 1184.3 1480.3 1193.1 1484.2 1201.4C1488 1209.6 1487.7 1219 1489.4 1226C1491.2 1233 1494.7 1237.1 1494.7 1243.6C1494.7 1250 1490.3 1261.2 1489.4 1264.7" fill="none" stroke="#5e3428" stroke-width="2.1"/>
<circle cx="1460.4" cy="1115.1" r="10.6" fill="#b5686e"/>
<circle cx="1454.2" cy="1155.6" r="10.6" fill="#b5686e"/>
<circle cx="1492.1" cy="1153.8" r="14.1" fill="#b5686e"/>
<circle cx="1478.9" cy="1183.8" r="9.7" fill="#b5686e"/>
<circle cx="1461.3" cy="1196.1" r="9.7" fill="#b5686e"/>
<circle cx="1473.6" cy="1208.4" r="8.8" fill="#b5686e"/>
<circle cx="1508.8" cy="1204.9" r="10.6" fill="#b5686e"/>
<circle cx="1484.2" cy="1233" r="12.3" fill="#b5686e"/>
<circle cx="1517.6" cy="1243.6" r="10.6" fill="#b5686e"/>
<circle cx="1415.5" cy="1176.7" r="6" fill="#fdc648"/>
<circle cx="1441.9" cy="1180.2" r="6" fill="#fdc648"/>
<circle cx="1434.9" cy="1201.4" r="6" fill="#fdc648"/>
<circle cx="1447.2" cy="1208.4" r="6" fill="#fdc648"/>
<circle cx="1463" cy="1240.1" r="6" fill="#fdc648"/>
<path d="M1415.5 1127.4C1416.1 1131 1417.6 1140.9 1419 1148.6C1420.5 1156.2 1423.4 1169.1 1424.3 1173.2" fill="none" stroke="#7a9f5e" stroke-width="2.5" stroke-linecap="round"/>
<path d="M1431.4 1148.6C1431.1 1152.1 1431.4 1163.2 1429.6 1169.7C1427.8 1176.1 1422.3 1184.3 1420.8 1187.3" fill="none" stroke="#7a9f5e" stroke-width="2.5" stroke-linecap="round"/>
<path d="M1408.5 1190.8C1412 1193.7 1421.7 1202.5 1429.6 1208.4C1437.5 1214.3 1451.6 1223.1 1456 1226" fill="none" stroke="#7a9f5e" stroke-width="2.5" stroke-linecap="round"/>
<path d="M1420.8 1201.4C1423.7 1205.5 1431.9 1218.1 1438.4 1226C1444.8 1233.9 1456 1245.1 1459.5 1248.9" fill="none" stroke="#7a9f5e" stroke-width="2.5" stroke-linecap="round"/>
<path d="M1498.2 1236.6C1499.4 1234.8 1512.6 1228.9 1514.1 1229.5C1515.5 1230.1 1509.7 1238.9 1507 1240.1C1504.4 1241.2 1497.1 1238.3 1498.2 1236.6Z" fill="#7a9f5e"/>
</g>
<g id="bear">
<path d="M1196.3 1280.9C1199.2 1273.3 1211 1266.7 1219.1 1265.7C1227.3 1264.6 1239.1 1271.1 1245.2 1274.3C1251.4 1277.6 1255.7 1288.1 1256.1 1285.2C1256.4 1282.3 1244.9 1265.7 1247.4 1257C1249.9 1248.3 1265.5 1235.2 1271.3 1233C1277.1 1230.9 1277.1 1235.2 1282.2 1243.9C1287.2 1252.6 1293.4 1277.2 1301.7 1285.2C1310.1 1293.2 1322.8 1283.8 1332.2 1291.7C1341.6 1299.7 1354.6 1321.8 1358.3 1333C1361.9 1344.3 1361.9 1349 1353.9 1359.1C1345.9 1369.3 1324.9 1384.5 1310.4 1393.9C1295.9 1403.3 1279.3 1415.7 1267 1415.7C1254.6 1415.7 1245.2 1404.8 1236.5 1393.9C1227.8 1383 1220.6 1364.2 1214.8 1350.4C1209 1336.7 1204.8 1322.9 1201.7 1311.3C1198.7 1299.7 1193.4 1288.5 1196.3 1280.9Z" fill="#d2a884" stroke="#c4946f" stroke-width="1.2"/>
<ellipse cx="1273.5" cy="1311.3" rx="38" ry="22.8" fill="#f5eee6" transform="rotate(-25 1273.5 1311.3)"/>
<path d="M1349.6 1311.3C1352.8 1307 1364.1 1306.2 1371.3 1307C1378.6 1307.7 1388.7 1311.3 1393 1315.7C1397.4 1320 1398.8 1328.3 1397.4 1333C1395.9 1337.8 1390.1 1341.7 1384.3 1343.9C1378.6 1346.1 1368 1347.9 1362.6 1346.1C1357.2 1344.3 1353.9 1338.8 1351.7 1333C1349.6 1327.2 1346.3 1315.7 1349.6 1311.3Z" fill="#d4aa88"/>
<path d="M1251.7 1391.7C1245.6 1388.1 1236 1391 1230 1393.9C1224 1396.8 1217.3 1403.7 1215.9 1409.1C1214.4 1414.6 1216.8 1423.3 1221.3 1426.5C1225.8 1429.8 1235.4 1430.5 1243 1428.7C1250.7 1426.9 1265.5 1421.8 1267 1415.7C1268.4 1409.5 1257.9 1395.4 1251.7 1391.7Z" fill="#d4aa88"/>
<path d="M1319.1 1289.6C1326.4 1286.5 1331.4 1282.7 1336.5 1286.3C1341.6 1289.9 1346.1 1301.3 1349.6 1311.3C1353 1321.3 1363 1335.2 1357.2 1346.1C1351.4 1357 1329.8 1365.3 1314.8 1376.5C1299.7 1387.8 1278.9 1411.7 1267 1413.5C1255 1415.3 1250.7 1396.4 1243 1387.4C1235.4 1378.3 1219.9 1368.2 1221.3 1359.1C1222.8 1350.1 1239.8 1342.1 1251.7 1333C1263.7 1324 1281.8 1312 1293 1304.8C1304.3 1297.5 1311.9 1292.6 1319.1 1289.6Z" fill="#fdc648"/>
<path d="M1235.7 1368.9C1244.1 1362.2 1268.6 1340.3 1286.2 1328.8C1303.8 1317.2 1331.9 1304.3 1341.1 1299.5" fill="none" stroke="#f3dc9a" stroke-width="6.1"/>
<path d="M1248.5 1384.1C1256.3 1377.6 1279.1 1356.1 1295.5 1344.7C1311.9 1333.4 1338.3 1321 1346.8 1316.2" fill="none" stroke="#f3dc9a" stroke-width="5.2"/>
<path d="M1261.3 1399.3C1268.5 1392.9 1289.5 1371.8 1304.8 1360.7C1320 1349.6 1344.7 1337.6 1352.6 1332.9" fill="none" stroke="#f3dc9a" stroke-width="4.3"/>
<path d="M1243.2 1375.4C1250.1 1369.4 1270.2 1349.6 1284.9 1339.5C1299.5 1329.3 1323.2 1318.5 1330.9 1314.3" fill="none" stroke="#5e3428" stroke-width="2.6"/>
<path d="M1256 1390.7C1262.3 1384.8 1280.7 1365.4 1294.2 1355.4C1307.6 1345.5 1329.6 1335.1 1336.7 1331.1" fill="none" stroke="#5e3428" stroke-width="2.6"/>
<path d="M1268.7 1405.9C1274.5 1400.1 1291.1 1381.1 1303.4 1371.4C1315.7 1361.7 1336 1351.8 1342.5 1347.8" fill="none" stroke="#5e3428" stroke-width="2.6"/>
<circle cx="1421.3" cy="1416.7" r="17" fill="#d9bd98"/>
<circle cx="1418" cy="1416.7" r="9.1" fill="#e9dcbc"/>
<circle cx="1315.9" cy="1495" r="20" fill="#d6ae90"/>
<circle cx="1317" cy="1491.7" r="10.9" fill="#ecdcc0"/>
<ellipse cx="1339.8" cy="1421.1" rx="73.5" ry="67.8" fill="url(#bh)" transform="rotate(-20 1339.8 1421.1)"/>
<ellipse cx="1301.7" cy="1437.4" rx="23.9" ry="32.6" fill="#d6a69c" transform="rotate(-20 1301.7 1437.4)" opacity="0.7"/>
<ellipse cx="1336.5" cy="1413.5" rx="27.8" ry="26.1" fill="#f5eee6"/>
<circle cx="1345.2" cy="1425.4" r="7.8" fill="#4a2a25"/>
<path d="M1332.2 1424.3C1332.2 1422.5 1330.4 1416 1332.2 1413.5C1334 1410.9 1339.8 1409.3 1343 1409.1C1346.3 1408.9 1350.3 1411.8 1351.7 1412.4" fill="none" stroke="#4a2a25" stroke-width="2"/>
<circle cx="1378.5" cy="1404.8" r="6.1" fill="#4a2a25"/>
<circle cx="1320.2" cy="1452.6" r="6.1" fill="#4a2a25"/>
<circle cx="1380" cy="1403" r="1.7" fill="#fff"/>
<circle cx="1321.7" cy="1450.9" r="1.7" fill="#fff"/>
<path d="M1467.3 1420.4C1471.2 1418.9 1481.5 1413.4 1490.6 1411.1C1499.6 1408.8 1511.2 1406.5 1521.6 1406.5C1531.9 1406.5 1543.9 1407 1552.7 1411.1C1561.5 1415.2 1569.8 1423.8 1574.4 1431.3C1579.1 1438.8 1581.6 1448.3 1580.6 1456.1C1579.6 1463.9 1574.1 1472.6 1568.2 1477.9C1562.3 1483.2 1552.8 1485.9 1545 1488C1537.2 1490.1 1525.5 1489.9 1521.6 1490.3C1522.1 1493.6 1526.6 1503.8 1524.5 1510C1522.4 1516.2 1515.9 1523.4 1509.2 1527.6C1502.5 1531.8 1492.6 1535.3 1484.3 1535.3C1476 1535.3 1466.2 1533 1459.5 1527.6C1452.8 1522.2 1446.8 1511.5 1444 1502.7C1441.2 1493.9 1441.4 1484.6 1442.4 1474.8C1443.4 1465 1446.1 1452.8 1450.2 1443.7C1454.3 1434.6 1464.5 1424.3 1467.3 1420.4Z" fill="url(#hg)"/>
<path d="M1551 1419C1553.8 1421.5 1564.3 1428.5 1568 1434C1571.7 1439.5 1572.2 1449 1573 1452" fill="none" stroke="#fbf3dc" stroke-width="3.5" stroke-linecap="round" opacity="0.85"/>
<path d="M1364.8 1292.8C1363 1292.3 1355.7 1291.6 1353.9 1289.6C1352.1 1287.6 1352.5 1282.5 1353.9 1280.9C1355.4 1279.2 1360.1 1278 1362.6 1279.8C1365.1 1281.6 1367 1286.1 1369.1 1291.7C1371.3 1297.4 1371.3 1304.8 1375.7 1313.5C1380 1322.2 1384.3 1332 1395.2 1343.9C1406.1 1355.9 1428.9 1373.1 1440.9 1385.2C1452.8 1397.4 1462.6 1411.5 1467 1416.7" fill="none" stroke="#5e3428" stroke-width="1.4"/>
<path d="M1467 1416.7C1466.6 1413.7 1463.7 1401.9 1464.8 1398.3C1465.9 1394.6 1471.7 1393.6 1473.5 1395C1475.3 1396.4 1476.7 1403.3 1475.7 1407C1474.6 1410.6 1471.7 1415.3 1467 1416.7C1462.2 1418.2 1451.2 1414.6 1447.4 1415.7C1443.6 1416.7 1442.7 1421.8 1444.1 1423.3C1445.6 1424.7 1452.3 1425.4 1456.1 1424.3C1459.9 1423.3 1465.1 1418 1467 1416.7" fill="none" stroke="#5e3428" stroke-width="1.4"/>
</g>
<g id="cat">
<path d="M930.3 1336.6C932.2 1331.5 943.2 1325 950.5 1320.5C957.7 1315.9 975.4 1306.1 984.8 1302.3C994.2 1298.5 1013.8 1292.5 1021.1 1292.2C1028.4 1291.9 1035 1297.3 1039.3 1300.3C1043.6 1303.2 1051.3 1309.6 1053.4 1314.4C1055.6 1319.3 1054.8 1336.3 1055.4 1336.6C1056.1 1336.9 1057.7 1322.1 1058.5 1316.4C1059.3 1310.8 1059.2 1297.9 1061.5 1294.2C1063.8 1290.6 1070.2 1290 1075.6 1289.2C1081 1288.4 1097 1286.4 1101.9 1288.2C1106.7 1289.9 1108.7 1295.8 1111.9 1302.3C1115.2 1308.8 1122.6 1326.9 1126.1 1336.6C1129.6 1346.3 1135.6 1363.4 1138.2 1375C1140.7 1386.5 1144.4 1413.2 1145.3 1423.4C1146.1 1433.6 1145.5 1442.5 1144.2 1451.7C1143 1460.8 1138.9 1483.2 1136.2 1492C1133.5 1500.9 1125.1 1512.4 1124.1 1518.3C1123 1524.2 1129.4 1530.3 1128.1 1536.5C1126.8 1542.6 1117.2 1557.7 1114 1564.7C1110.7 1571.7 1106.8 1583.8 1103.9 1588.9C1100.9 1594 1095.3 1602.8 1091.8 1603.1C1088.3 1603.3 1081.7 1594.2 1077.6 1591C1073.6 1587.7 1066.3 1581.8 1061.5 1578.8C1056.6 1575.9 1045.6 1570.4 1041.3 1568.7C1037 1567.1 1033 1566.7 1029.2 1566.7C1025.4 1566.7 1015.7 1569.6 1013 1568.7C1010.3 1567.9 1008.2 1565 1009 1560.7C1009.8 1556.4 1016.8 1542.9 1019.1 1536.5C1021.4 1530 1024.5 1517.6 1026.2 1512.2C1027.8 1506.8 1032.1 1501.5 1031.2 1496.1C1030.3 1490.7 1023.7 1477.8 1019.1 1471.9C1014.5 1465.9 1002.5 1457.9 996.9 1451.7C991.2 1445.5 981.8 1433 976.7 1425.4C971.6 1417.9 962 1401.9 958.5 1395.2C955 1388.4 953.4 1379.8 950.5 1375C947.5 1370.1 939 1363.9 936.3 1358.8C933.6 1353.7 928.4 1341.7 930.3 1336.6Z" fill="#f9fafc" stroke="#c9a27a" stroke-width="1.2"/>
<path d="M930.3 1336.6C932.6 1330.4 944.7 1324.2 950.5 1321.5C956.2 1318.8 963.2 1317.6 964.6 1320.5C965.9 1323.3 960.9 1332.9 958.5 1338.6C956.2 1344.4 951.8 1348.7 950.5 1354.8C949.1 1360.8 952.8 1374.3 950.5 1375C948.1 1375.6 939.7 1365.2 936.3 1358.8C933 1352.4 927.9 1342.8 930.3 1336.6Z" fill="#7f9a62"/>
<path d="M950.5 1354.8C952 1354.8 957.9 1342 960.6 1336.6C963.2 1331.2 966.9 1325.2 966.6 1322.5C966.3 1319.8 961.1 1318.1 958.5 1320.5C956 1322.8 952.8 1330.9 951.5 1336.6C950.1 1342.3 949 1354.8 950.5 1354.8Z" fill="#6b4030"/>
<path d="M1031.2 1304.3C1033.9 1301 1045.3 1307.3 1049.4 1310.4C1053.4 1313.4 1054.8 1315.8 1055.4 1322.5C1056.1 1329.2 1055.8 1342 1053.4 1350.7C1051.1 1359.5 1046 1368.6 1041.3 1375C1036.6 1381.4 1027.2 1391.5 1025.2 1389.1C1023.1 1386.7 1027.8 1370.6 1029.2 1360.8C1030.5 1351.1 1032.9 1340 1033.2 1330.6C1033.6 1321.1 1028.5 1307.7 1031.2 1304.3Z" fill="#8fa078"/>
<path d="M1029.2 1308.4C1029.2 1306.5 1037.3 1303.6 1041.3 1305.3C1045.3 1307 1053.4 1316.6 1053.4 1318.4C1053.4 1320.3 1045.3 1318.1 1041.3 1316.4C1037.3 1314.7 1029.2 1310.2 1029.2 1308.4Z" fill="#5e4030"/>
<path d="M1061.5 1296.2C1065.5 1292.2 1076.3 1290.5 1081.7 1290.2C1087.1 1289.8 1094.5 1290.9 1093.8 1294.2C1093.1 1297.6 1083 1304.3 1077.6 1310.4C1072.3 1316.4 1064.8 1329.9 1061.5 1330.6C1058.1 1331.2 1057.4 1320.1 1057.4 1314.4C1057.4 1308.7 1057.4 1300.3 1061.5 1296.2Z" fill="#d9bd98" stroke="none" opacity="0.8"/>
<path d="M1101.9 1336.6C1103.5 1330.6 1111.3 1339 1114 1346.7C1116.7 1354.4 1118.3 1372.3 1118 1383C1117.7 1393.8 1114.3 1411.3 1111.9 1411.3C1109.6 1411.3 1105.6 1395.5 1103.9 1383C1102.2 1370.6 1100.2 1342.7 1101.9 1336.6Z" fill="#e3d4b8" stroke="none" opacity="0.8"/>
<path d="M1009 1391.1C1011 1389.1 1019.8 1400.5 1025.2 1399.2C1030.5 1397.8 1040.6 1379 1041.3 1383C1042 1387.1 1033.9 1418.7 1029.2 1423.4C1024.5 1428.1 1016.4 1416.7 1013 1411.3C1009.7 1405.9 1007 1393.1 1009 1391.1Z" fill="#e6d8bc" stroke="none" opacity="0.8"/>
<path d="M1096.8 1292.2C1097.7 1302 1101 1330.9 1101.9 1350.7C1102.7 1370.6 1102.9 1393.1 1101.9 1411.3C1100.8 1429.5 1096.8 1451.7 1095.8 1459.7" fill="none" stroke="#c9a27a" stroke-width="1.2"/>
<path d="M1053.4 1350.7C1050 1358.1 1038.6 1381.7 1033.2 1395.2C1027.8 1408.6 1022.5 1418.7 1021.1 1431.5C1019.8 1444.3 1024.5 1465.1 1025.2 1471.9" fill="none" stroke="#c9a27a" stroke-width="1.2"/>
<path d="M1009 1560.7C1010 1555.3 1015.7 1544.2 1019.1 1536.5C1022.5 1528.7 1025.8 1514.9 1029.2 1514.2C1032.6 1513.6 1036.6 1526.7 1039.3 1532.4C1042 1538.1 1045 1542.5 1045.3 1548.6C1045.7 1554.6 1044 1565.7 1041.3 1568.7C1038.6 1571.8 1033.9 1566.7 1029.2 1566.7C1024.5 1566.7 1016.4 1569.8 1013 1568.7C1009.7 1567.7 1008 1566.1 1009 1560.7Z" fill="#c79a72"/>
<path d="M1013 1566.7C1011.7 1563.5 1017.7 1549.6 1021.1 1548.6C1024.5 1547.6 1031.9 1557.5 1033.2 1560.7C1034.6 1563.9 1032.6 1566.7 1029.2 1567.7C1025.8 1568.7 1014.4 1569.9 1013 1566.7Z" fill="#5e3a2a"/>
<path d="M1065.5 1556.6C1067.9 1552.3 1075.6 1553.3 1081.7 1550.6C1087.7 1547.9 1095.1 1542.5 1101.9 1540.5C1108.6 1538.5 1120 1534.4 1122 1538.5C1124.1 1542.5 1117 1556.3 1114 1564.7C1110.9 1573.1 1107.6 1582.5 1103.9 1588.9C1100.2 1595.3 1096.1 1602.7 1091.8 1603.1C1087.4 1603.4 1081.7 1595.3 1077.6 1591C1073.6 1586.6 1069.6 1582.5 1067.5 1576.8C1065.5 1571.1 1063.2 1561 1065.5 1556.6Z" fill="#d0a274"/>
<path d="M1073.6 1576.8C1073.3 1580.2 1082.7 1588.9 1085.7 1593C1088.7 1597 1089.4 1602.4 1091.8 1601C1094.1 1599.7 1100.5 1589.6 1099.8 1584.9C1099.2 1580.2 1092.1 1574.1 1087.7 1572.8C1083.4 1571.4 1073.9 1573.5 1073.6 1576.8Z" fill="#f3ead8"/>
<ellipse cx="1042.3" cy="1528.4" rx="7.7" ry="7.3" fill="#5e9ab0"/>
<ellipse cx="1040.3" cy="1528.4" rx="4" ry="5.7" fill="#3a2620"/>
<ellipse cx="1080.7" cy="1540.5" rx="7.7" ry="8.1" fill="#5eaa9a"/>
<ellipse cx="1078.6" cy="1541.5" rx="4" ry="6.1" fill="#3a2620"/>
<ellipse cx="1068.6" cy="1516.7" rx="4.4" ry="3.6" fill="#d9a0a0"/>
<path d="M1029.2 1494.1C1026.5 1492.9 1017.7 1488.3 1013 1487C1008.3 1485.7 1002.9 1486.2 1000.9 1486" fill="none" stroke="#f0e6ea" stroke-width="1.3"/>
<path d="M1027.2 1500.1C1024.1 1499.4 1014.2 1496.8 1009 1496.1C1003.8 1495.3 998.1 1495.7 995.9 1495.7" fill="none" stroke="#f0e6ea" stroke-width="1.3"/>
<path d="M1025.2 1505.2C1022.5 1504.7 1014 1502.5 1009 1502.1C1004 1501.8 997.2 1503 994.9 1503.1" fill="none" stroke="#f0e6ea" stroke-width="1.3"/>
<path d="M1118 1526.4C1120.4 1526.2 1127.8 1525.3 1132.1 1525.3C1136.5 1525.3 1142.2 1526.2 1144.2 1526.4" fill="none" stroke="#f0e6ea" stroke-width="1.3"/>
<path d="M1122 1532.4C1124.1 1532.8 1130.8 1533.6 1134.2 1534.4C1137.5 1535.3 1140.9 1537 1142.2 1537.5" fill="none" stroke="#f0e6ea" stroke-width="1.3"/>
<path d="M1122 1540.5C1123.7 1541 1129.1 1542.3 1132.1 1543.5C1135.2 1544.7 1138.9 1546.9 1140.2 1547.6" fill="none" stroke="#f0e6ea" stroke-width="1.3"/>
</g>
<g id="bouquet">
<path d="M637.7 1362.4L693.2 1347.1L687.5 1362.4Z" fill="#efe4c6"/>
<path d="M651.1 1299.2L702.8 1312.6L693.2 1327.9Z" fill="#efe4c6"/>
<path d="M668.3 1422.8L710.5 1385.4L720 1396.9Z" fill="#efe4c6"/>
<path d="M724.8 1469.7L737.3 1419.9L748.8 1425.6Z" fill="#efe4c6"/>
<path d="M785.2 1486L789 1435.2L800.5 1439Z" fill="#efe4c6"/>
<path d="M850.3 1453.4L821.6 1396.9L836.9 1387.3Z" fill="#efe4c6"/>
<path d="M747.8 1465.9L754.5 1429.5L764.1 1435.2Z" fill="#efe4c6"/>
<path d="M842.6 1465.9L819.7 1410.3L831.1 1406.5Z" fill="#efe4c6"/>
<path d="M647.2 1318.4L687.5 1324.1L683.6 1335.6Z" fill="#efe4c6"/>
<path d="M714.3 1303C739.5 1315.5 828.6 1374.2 846.5 1391.1C864.4 1408.1 828.9 1406.2 821.6 1404.6C814.2 1403 810.1 1385.4 802.4 1381.6C794.8 1377.7 784.5 1381.6 775.6 1381.6C766.7 1381.6 758 1381.6 748.8 1381.6C739.5 1381.6 728.3 1389.2 720 1381.6C711.7 1373.9 703.1 1346.4 699 1335.6C694.8 1324.7 692.6 1321.9 695.1 1316.4C697.7 1311 689.1 1290.6 714.3 1303Z" fill="#8fc07a"/>
<path d="M729.6 1320.3C725.8 1322.8 712.4 1331.8 706.6 1335.6C700.9 1339.4 697 1342 695.1 1343.3" fill="none" stroke="#e9e2c0" stroke-width="5" stroke-linecap="round"/>
<path d="M752.6 1331.8C748.8 1336.9 737.3 1352.8 729.6 1362.4C722 1372 710.5 1384.8 706.6 1389.2" fill="none" stroke="#e9e2c0" stroke-width="5" stroke-linecap="round"/>
<path d="M775.6 1343.3C771.8 1349.6 759.6 1371 752.6 1381.6C745.6 1392.1 736.6 1402.3 733.4 1406.5" fill="none" stroke="#e9e2c0" stroke-width="5" stroke-linecap="round"/>
<path d="M798.6 1358.6C796 1362.4 788.4 1375.2 783.3 1381.6C778.1 1388 770.5 1394.3 767.9 1396.9" fill="none" stroke="#e9e2c0" stroke-width="5" stroke-linecap="round"/>
<path d="M817.7 1373.9C817.1 1378.4 813.9 1393.1 813.9 1400.7C813.9 1408.4 817.1 1416.7 817.7 1419.9" fill="none" stroke="#e9e2c0" stroke-width="5" stroke-linecap="round"/>
<path d="M741.1 1326C737.3 1330.2 724.5 1344.9 718.1 1350.9C711.7 1357 705.4 1360.5 702.8 1362.4" fill="none" stroke="#6fa35a" stroke-width="4.2" stroke-linecap="round"/>
<path d="M787.1 1350.9C783.9 1356 773 1374.5 767.9 1381.6C762.8 1388.6 758.4 1391.1 756.4 1393.1" fill="none" stroke="#6fa35a" stroke-width="4.2" stroke-linecap="round"/>
<ellipse cx="676" cy="1327.9" rx="23.9" ry="18.2" fill="#f5ebe6" transform="rotate(20 676 1327.9)" stroke="#dcb8b4" stroke-width="1.4"/><ellipse cx="676" cy="1327.9" rx="13.2" ry="16.4" fill="#faf5f1" transform="rotate(20 676 1327.9)" stroke="#e6cfc8" stroke-width="1"/>
<ellipse cx="678.9" cy="1370.1" rx="23.9" ry="21.1" fill="#f5ebe6" transform="rotate(30 678.9 1370.1)" stroke="#dcb8b4" stroke-width="1.4"/><ellipse cx="678.9" cy="1370.1" rx="13.2" ry="19" fill="#faf5f1" transform="rotate(30 678.9 1370.1)" stroke="#e6cfc8" stroke-width="1"/>
<ellipse cx="721" cy="1354.8" rx="24.9" ry="21.5" fill="#f5ebe6" transform="rotate(30 721 1354.8)" stroke="#dcb8b4" stroke-width="1.4"/><ellipse cx="721" cy="1354.8" rx="13.7" ry="19.3" fill="#faf5f1" transform="rotate(30 721 1354.8)" stroke="#e6cfc8" stroke-width="1"/>
<ellipse cx="705.7" cy="1419.9" rx="25.9" ry="22.6" fill="#f5ebe6" transform="rotate(40 705.7 1419.9)" stroke="#dcb8b4" stroke-width="1.4"/><ellipse cx="705.7" cy="1419.9" rx="14.2" ry="20.3" fill="#faf5f1" transform="rotate(40 705.7 1419.9)" stroke="#e6cfc8" stroke-width="1"/>
<ellipse cx="744.9" cy="1404.6" rx="23.4" ry="23.4" fill="#f5ebe6" transform="rotate(30 744.9 1404.6)" stroke="#dcb8b4" stroke-width="1.4"/><ellipse cx="744.9" cy="1404.6" rx="12.9" ry="21" fill="#faf5f1" transform="rotate(30 744.9 1404.6)" stroke="#e6cfc8" stroke-width="1"/>
<ellipse cx="786.1" cy="1394" rx="25.9" ry="21.5" fill="#f5ebe6" transform="rotate(20 786.1 1394)" stroke="#dcb8b4" stroke-width="1.4"/><ellipse cx="786.1" cy="1394" rx="14.2" ry="19.3" fill="#faf5f1" transform="rotate(20 786.1 1394)" stroke="#e6cfc8" stroke-width="1"/>
<ellipse cx="767" cy="1439" rx="24.5" ry="24.5" fill="#f5ebe6" transform="rotate(30 767 1439)" stroke="#dcb8b4" stroke-width="1.4"/><ellipse cx="767" cy="1439" rx="13.5" ry="22.1" fill="#faf5f1" transform="rotate(30 767 1439)" stroke="#e6cfc8" stroke-width="1"/>
<ellipse cx="811" cy="1437.1" rx="20.7" ry="28.7" fill="#f5ebe6" transform="rotate(-5 811 1437.1)" stroke="#dcb8b4" stroke-width="1.4"/><ellipse cx="811" cy="1437.1" rx="11.4" ry="25.9" fill="#faf5f1" transform="rotate(-5 811 1437.1)" stroke="#e6cfc8" stroke-width="1"/>
<ellipse cx="693.2" cy="1343.3" rx="5.7" ry="9.6" fill="#dcb8b4" opacity="0.6"/>
<ellipse cx="762.2" cy="1416.1" rx="7.7" ry="5.7" fill="#dcb8b4" opacity="0.6"/>
<ellipse cx="729.6" cy="1421.8" rx="5.7" ry="11.5" fill="#dcb8b4" opacity="0.6"/>
<ellipse cx="790.9" cy="1439" rx="4.8" ry="11.5" fill="#dcb8b4" opacity="0.6"/>
<ellipse cx="720" cy="1343.3" rx="9.6" ry="5.7" fill="#dcb8b4" opacity="0.6"/>
<ellipse cx="783.3" cy="1383.5" rx="9.6" ry="5.4" fill="#dcb8b4" opacity="0.6"/>
<path d="M764.1 1224.5C769.7 1220.9 789 1211.6 796.7 1211.1C804.3 1210.6 814.4 1216.6 821.6 1220.7C828.7 1224.7 842.6 1235.8 850.3 1241.7C858 1247.6 872.4 1257.8 879 1264.7C885.7 1271.6 897.6 1286 900.1 1293.4C902.7 1300.9 901 1313.6 898.2 1320.3C895.4 1326.9 884.2 1337.1 879 1343.3C873.9 1349.4 864.2 1359.6 859.9 1366.2C855.5 1372.9 849.5 1389.7 846.5 1393.1C843.4 1396.4 846.3 1397.8 836.9 1391.1C827.4 1384.5 791.7 1355.3 775.6 1343.3C759.5 1331.3 722.8 1309.5 716.2 1301.1C709.6 1292.7 723 1285.7 725.8 1280C728.6 1274.4 733.4 1264.6 737.3 1259C741.1 1253.3 750.9 1242.5 754.5 1237.9C758.1 1233.3 758.5 1228.1 764.1 1224.5Z" fill="#f6efe8" stroke="#e6d2a8" stroke-width="2"/>
<path d="M764.1 1224.5C770.8 1219.7 787.1 1211.7 796.7 1211.1C806.2 1210.4 820.6 1218.1 821.6 1220.7C822.5 1223.2 810.1 1224.2 802.4 1226.4C794.8 1228.6 783.3 1231.8 775.6 1234.1C767.9 1236.3 758.4 1241.4 756.4 1239.8C754.5 1238.2 757.4 1229.3 764.1 1224.5Z" fill="#eadab4"/>
<path d="M725.8 1280C730.6 1279.7 755.5 1292.1 764.1 1297.3C772.7 1302.5 802.4 1324.7 812 1331.8C821.6 1338.9 855.5 1363 859.9 1368.2C864.3 1373.3 857.4 1381 856.1 1383.5C854.7 1386 848.4 1392.3 846.5 1393.1C844.6 1393.8 842.3 1394.8 836.9 1391.1C831.5 1387.5 801.3 1363.4 792.8 1356.7C784.4 1350 760.3 1329.7 752.6 1324.1C744.9 1318.5 718.9 1305.5 716.2 1301.1C713.5 1296.7 721 1280.4 725.8 1280Z" fill="#dcc296" stroke="#c49a6a" stroke-width="1.5"/>
<path d="M725.8 1280C731.2 1278.1 745.6 1284.2 748.8 1289.6C752 1295 750.4 1310.7 744.9 1312.6C739.5 1314.5 719.4 1306.5 716.2 1301.1C713 1295.7 720.4 1282 725.8 1280Z" fill="#c9a070" stroke="none" opacity="0.8"/>
<path d="M754.5 1238.9C760.9 1242.8 780.7 1255.3 792.8 1262.8C805 1270.3 814.5 1274.3 827.3 1283.9C840.1 1293.4 859.6 1310.7 869.5 1320.3C879.4 1329.8 883.8 1337.8 886.7 1341.3" fill="none" stroke="#8a5a40" stroke-width="1.2"/>
<path d="M752.6 1242.7C759.3 1246.8 780.4 1260.1 792.8 1267.6C805.3 1275.1 815.2 1278.3 827.3 1287.7C839.5 1297.1 856.4 1314.8 865.6 1324.1C874.9 1333.4 880 1340.1 882.9 1343.3" fill="none" stroke="#8a5a40" stroke-width="1.2"/>
<path d="M827.3 1283.9C828.3 1280.4 833.4 1268.9 833.1 1262.8C832.7 1256.7 825.1 1248.1 825.4 1247.5C825.7 1246.8 834.7 1252.9 835 1259C835.3 1265 833.4 1280.5 827.3 1283.9C821.3 1287.2 803.7 1279.1 798.6 1279.1C793.5 1279.1 794.8 1282.8 796.7 1283.9C798.6 1285 805 1285.8 810.1 1285.8C815.2 1285.8 820.6 1286.1 827.3 1283.9C834 1281.6 850.3 1272.4 850.3 1272.4C850.3 1272.4 830.5 1277.8 827.3 1283.9C824.1 1289.9 829.9 1305.9 831.1 1308.8C832.4 1311.6 835.6 1305.3 835 1301.1C834.3 1297 828.6 1286.7 827.3 1283.9" fill="none" stroke="#8a5a40" stroke-width="1.2"/>
<circle cx="827.3" cy="1283.9" r="2.7" fill="#5e3428"/>
</g>
<g id="bunny">
<path d="M639.2 1011.2C638.4 1008.2 642.2 1005.5 645.2 1004.4C648.2 1003.3 653.7 1002.7 657.2 1004.4C660.6 1006.1 664.6 1011.8 665.7 1014.7C666.8 1017.5 666.5 1020.2 664 1021.5C661.4 1022.8 654.5 1024 650.3 1022.3C646.2 1020.6 640.1 1014.2 639.2 1011.2Z" fill="#f1e6c2"/>
<path d="M599.1 1069.3C600.8 1063.6 605.6 1055.1 611 1048.8C616.5 1042.6 624.1 1036 631.5 1031.7C638.9 1027.5 646.9 1024.6 655.4 1023.2C664 1021.8 675.4 1021.8 682.8 1023.2C690.2 1024.6 696.2 1027.5 699.9 1031.7C703.6 1036 704.4 1042.6 705 1048.8C705.5 1055.1 703 1064.2 703.3 1069.3C703.6 1074.4 707.3 1077 706.7 1079.6C706.1 1082.1 703.8 1084.1 699.9 1084.7C695.9 1085.2 690.7 1083 682.8 1083C674.8 1083 662.8 1084.1 652 1084.7C641.2 1085.2 626.4 1086.7 617.9 1086.4C609.3 1086.1 603.9 1085.8 600.8 1083C597.7 1080.1 597.4 1075 599.1 1069.3Z" fill="#efe2b8" stroke="#dcc08c" stroke-width="1.2"/>
<path d="M638.4 1055.6C640.4 1050.8 645.5 1043.4 652 1040.3C658.6 1037.1 670.3 1035.4 677.7 1036.9C685.1 1038.3 693.3 1043.4 696.4 1048.8C699.6 1054.2 699.3 1063.9 696.4 1069.3C693.6 1074.7 686.8 1079.6 679.4 1081.3C672 1083 658.6 1081.5 652 1079.6C645.5 1077.6 642.4 1073.3 640.1 1069.3C637.8 1065.3 636.4 1060.5 638.4 1055.6Z" fill="#f3e9c5" stroke="#e0c99a" stroke-width="1"/>
<path d="M510.3 1088.9C506.1 1089.9 498.5 1087.5 491.5 1083.8C484.5 1080.1 475.1 1073.6 468.4 1066.7C461.7 1059.9 455.1 1050.8 451.3 1042.8C447.6 1034.9 443.7 1022.3 445.7 1018.9C447.7 1015.5 456.7 1019.2 463.3 1022.3C469.9 1025.5 478.7 1031.7 485.5 1037.7C492.3 1043.7 499.2 1051.5 504.3 1058.2C509.4 1064.9 515.3 1072.7 516.3 1077.8C517.2 1083 514.4 1088 510.3 1088.9Z" fill="#efe3c2" stroke="#d9b48a" stroke-width="1.2"/>
<path d="M518.8 1071.9C512.1 1069.4 501.6 1060.8 494 1053.1C486.5 1045.4 477.8 1034.6 473.6 1025.8C469.3 1016.9 468.2 1007.6 468.4 1000.1C468.6 992.7 470.5 983 474.7 980.8C479 978.7 487.1 983.1 494 987.3C501 991.5 510 998.7 516.3 1006.1C522.5 1013.5 528.1 1023.5 531.6 1031.7C535.2 1040 537.1 1049.6 537.6 1055.6C538.1 1061.7 537.7 1065.2 534.5 1067.9C531.4 1070.6 525.6 1074.3 518.8 1071.9Z" fill="#f3e9cf" stroke="#d9b48a" stroke-width="1.2"/>
<path d="M523.1 1062.5C518.4 1060.1 507.7 1048 501.7 1040.3C495.8 1032.6 489.9 1023.1 487.2 1016.4C484.5 1009.7 483.1 1001.3 485.5 1000.1C487.9 999 496 1004.5 501.7 1009.5C507.4 1014.5 515 1022.5 519.7 1030C524.4 1037.6 529.3 1049.4 529.9 1054.8C530.5 1060.2 527.8 1064.9 523.1 1062.5Z" fill="#f7efe4"/>
<path d="M510.3 1086.4C508.3 1085 503.4 1074.4 503.4 1071C503.4 1067.6 508.3 1064.5 510.3 1065.9C512.3 1067.3 515.4 1076.1 515.4 1079.6C515.4 1083 512.3 1087.8 510.3 1086.4Z" fill="#a86f4a"/>
<ellipse cx="662.3" cy="1147.9" rx="76" ry="62.9" fill="url(#eg)" transform="rotate(8 662.3 1147.9)"/>
<path d="M727.2 1130.8C729.5 1127.9 736.3 1140.8 737.4 1147.9C738.6 1155 736.9 1165.5 734 1173.5C731.2 1181.5 722.1 1197.1 720.4 1195.7C718.6 1194.3 722.6 1175.8 723.8 1165C724.9 1154.1 724.9 1133.6 727.2 1130.8Z" fill="#9cc3a4" stroke="none" opacity="0.6"/>
<path d="M648.6 1153C654.9 1151 672 1145.9 686.2 1141C700.4 1136.2 726 1126.8 734 1124" fill="none" stroke="#6fa35a" stroke-width="1.5"/>
<path d="M675.9 1125.7C680.5 1124.2 695 1120 703.3 1117.1C711.5 1114.3 721.8 1110 725.5 1108.6" fill="none" stroke="#6fa35a" stroke-width="1.5"/>
<path d="M681.1 1103.5C681.1 1102.3 691.6 1103.3 696.4 1105.2C701.3 1107 710.1 1113.4 710.1 1114.6C710.1 1115.7 701.3 1113.9 696.4 1112C691.6 1110.2 681.1 1104.6 681.1 1103.5Z" fill="#6fa35a"/>
<path d="M710.1 1114.6C711 1115.1 708.7 1121.3 706.7 1124C704.7 1126.7 699 1131.4 698.1 1130.8C697.3 1130.2 699.6 1123.3 701.6 1120.5C703.6 1117.8 709.2 1114 710.1 1114.6Z" fill="#6fa35a"/>
<path d="M693 1147.9C693.6 1146.9 705.5 1143.9 710.1 1143.6C714.7 1143.3 720.9 1145.2 720.4 1146.2C719.8 1147.2 711.2 1149.3 706.7 1149.6C702.1 1149.9 692.5 1148.9 693 1147.9Z" fill="#6fa35a"/>
<path d="M720.4 1146.2C721.2 1146.7 720.1 1153.3 718.6 1156.4C717.2 1159.5 712.7 1165.5 711.8 1165C711 1164.4 712.1 1156.1 713.5 1153C714.9 1149.9 719.5 1145.6 720.4 1146.2Z" fill="#6fa35a"/>
<path d="M623 1130.8C623.6 1129.1 631 1134.2 635 1137.6C638.9 1141 647.5 1149.6 646.9 1151.3C646.3 1153 635.5 1151.3 631.5 1147.9C627.6 1144.5 622.4 1132.5 623 1130.8Z" fill="#fdc648"/>
<path d="M609.3 1151.3C611.9 1149 620.2 1145.9 626.4 1146.2C632.7 1146.5 646.9 1150.4 646.9 1153C646.9 1155.6 632.4 1160.4 626.4 1161.5C620.4 1162.7 613.9 1161.5 611 1159.8C608.2 1158.1 606.8 1153.6 609.3 1151.3Z" fill="#fdc648"/>
<path d="M646.9 1153C648.3 1153 650.6 1161 648.6 1165C646.6 1168.9 638.7 1174.6 635 1176.9C631.3 1179.2 625.6 1180.6 626.4 1178.6C627.3 1176.6 636.7 1169.2 640.1 1165C643.5 1160.7 645.5 1153 646.9 1153Z" fill="#fdc648"/>
<path d="M652 1118.8C652.3 1117.6 660.3 1117.8 664 1118.8C667.7 1119.8 674.5 1123.5 674.2 1124.8C674 1126.1 666 1127.5 662.3 1126.5C658.6 1125.5 651.7 1120.1 652 1118.8Z" fill="#fdc648"/>
<path d="M670.8 1111.2C671.4 1110 674.8 1111.6 675.9 1113.7C677.1 1115.8 678.2 1122.8 677.7 1124C677.1 1125.1 673.7 1122.7 672.5 1120.5C671.4 1118.4 670.3 1112.3 670.8 1111.2Z" fill="#fdc648"/>
<path d="M674.2 1125.7C675.1 1125.4 679.9 1128.9 681.1 1130.8C682.2 1132.6 681.9 1136.5 681.1 1136.8C680.2 1137.1 677.1 1134.4 675.9 1132.5C674.8 1130.7 673.4 1126 674.2 1125.7Z" fill="#fdc648"/>
<path d="M674.2 1126.5C674.5 1127.7 671.1 1135.5 669.1 1137.6C667.1 1139.8 662.6 1140.5 662.3 1139.3C662 1138.2 665.4 1132.9 667.4 1130.8C669.4 1128.7 674 1125.4 674.2 1126.5Z" fill="#fdc648"/>
<path d="M681.5 1182.5C686.1 1188.3 693 1190.6 700.2 1191.2C704 1191.5 706.3 1189.3 707 1185.9C707.7 1182.6 706.4 1179.7 702.8 1178.4C695.9 1176.1 688.7 1175.6 682.2 1179.2Z" fill="#f0e2dc" stroke="#dcc4c0" stroke-width="0.6"/>
<path d="M679.8 1183.4C680.1 1190.8 684.3 1196.6 689.8 1201.4C692.8 1203.8 695.9 1203.4 698.4 1201.1C700.9 1198.8 701.6 1195.7 699.4 1192.5C695.2 1186.7 689.7 1182 682.4 1181.1Z" fill="#f0e2dc" stroke="#dcc4c0" stroke-width="0.6"/>
<path d="M678 1183.1C673.8 1189.2 673.8 1196.4 675.4 1203.5C676.4 1207.2 679.2 1208.7 682.6 1208.3C686 1207.9 688.3 1205.9 688.4 1202C688.4 1194.8 686.7 1187.7 681.3 1182.7Z" fill="#f0e2dc" stroke="#dcc4c0" stroke-width="0.6"/>
<path d="M676.6 1181.7C669.7 1184.3 665.4 1190.1 662.6 1196.7C661.1 1200.3 662.5 1203.2 665.5 1204.9C668.5 1206.6 671.6 1206.3 674 1203.2C678.2 1197.3 681 1190.7 679.6 1183.4Z" fill="#f0e2dc" stroke="#dcc4c0" stroke-width="0.6"/>
<path d="M676.3 1179.8C669.2 1177.8 662.3 1180 656.1 1183.7C652.9 1185.8 652.3 1188.9 653.7 1192C655.2 1195.2 657.9 1196.8 661.6 1195.7C668.4 1193.4 674.6 1189.6 677.7 1182.9Z" fill="#f0e2dc" stroke="#dcc4c0" stroke-width="0.6"/>
<path d="M677.2 1178.1C672.6 1172.3 665.8 1170 658.6 1169.4C654.7 1169.2 652.4 1171.4 651.7 1174.7C651.1 1178.1 652.3 1181 656 1182.3C662.8 1184.5 670 1185.1 676.5 1181.5Z" fill="#f0e2dc" stroke="#dcc4c0" stroke-width="0.6"/>
<path d="M678.9 1177.3C678.6 1169.9 674.4 1164 668.9 1159.3C665.9 1156.8 662.8 1157.2 660.3 1159.6C657.8 1161.9 657.1 1164.9 659.3 1168.1C663.5 1174 669 1178.7 676.4 1179.6Z" fill="#f0e2dc" stroke="#dcc4c0" stroke-width="0.6"/>
<path d="M680.8 1177.6C684.9 1171.4 684.9 1164.2 683.3 1157.2C682.3 1153.4 679.6 1151.9 676.1 1152.3C672.7 1152.7 670.4 1154.8 670.3 1158.7C670.3 1165.9 672 1172.9 677.4 1178Z" fill="#f0e2dc" stroke="#dcc4c0" stroke-width="0.6"/>
<path d="M682.1 1178.9C689 1176.4 693.3 1170.6 696.2 1163.9C697.6 1160.3 696.2 1157.5 693.2 1155.8C690.2 1154.1 687.1 1154.4 684.7 1157.5C680.5 1163.3 677.7 1170 679.1 1177.3Z" fill="#f0e2dc" stroke="#dcc4c0" stroke-width="0.6"/>
<path d="M682.4 1180.8C689.5 1182.8 696.4 1180.7 702.6 1176.9C705.9 1174.8 706.4 1171.7 705 1168.6C703.6 1165.5 700.9 1163.9 697.1 1165C690.3 1167.2 684.1 1171 681 1177.7Z" fill="#f0e2dc" stroke="#dcc4c0" stroke-width="0.6"/>
<circle cx="679.4" cy="1180.3" r="5.1" fill="#5e3428"/>
<path d="M513.7 1083C516.4 1077.8 519.7 1070.4 525.6 1065.9C531.6 1061.3 541.6 1057.8 549.6 1055.6C557.5 1053.5 566.9 1051.9 573.5 1053.1C580 1054.2 584.7 1057.5 588.8 1062.5C593 1067.5 596.5 1075.6 598.2 1083C599.9 1090.4 599.8 1100.1 599.1 1106.9C598.4 1113.7 596.5 1118.3 594 1124C591.4 1129.7 586.6 1137.1 583.7 1141C580.9 1145 580.3 1147 576.9 1147.9C573.5 1148.7 568.9 1147 563.2 1146.2C557.5 1145.3 549 1145 542.7 1142.7C536.5 1140.5 530.5 1137.3 525.6 1132.5C520.8 1127.7 516.4 1119.7 513.7 1113.7C511 1107.7 509.4 1101.8 509.4 1096.6C509.4 1091.5 511 1088.1 513.7 1083Z" fill="url(#bn)" stroke="#d9b48a" stroke-width="1.2"/>
<path d="M510.3 1096.6C509.4 1102.3 511.1 1107.7 513.7 1113.7C516.3 1119.7 522.5 1128.5 525.6 1132.5C528.8 1136.5 533 1140.2 532.5 1137.6C531.9 1135.1 524.8 1124 522.2 1117.1C519.7 1110.3 517.7 1102.9 517.1 1096.6C516.5 1090.4 520 1079.6 518.8 1079.6C517.7 1079.6 511.1 1090.9 510.3 1096.6Z" fill="#c98a6a" stroke="none" opacity="0.7"/>
<ellipse cx="580.3" cy="1096.6" rx="7.7" ry="10.2" fill="#dccab0" opacity="0.7"/>
<path d="M566.6 1105.2C569.1 1105.7 571.2 1110.9 571.8 1113.7C572.3 1116.6 571.8 1120.8 570.1 1122.3C568.3 1123.7 564.2 1123.1 561.5 1122.3C558.8 1121.4 554.5 1119.1 553.8 1117.1C553.1 1115.1 555.1 1112.3 557.2 1110.3C559.4 1108.3 564.2 1104.6 566.6 1105.2Z" fill="#4a2a25"/>
<circle cx="564.1" cy="1118.5" r="1.7" fill="#fff"/>
<ellipse cx="577.2" cy="1145.8" rx="3.8" ry="2.7" fill="#6b3a30" transform="rotate(30 577.2 1145.8)"/>
<path d="M602.5 1093.2C603.6 1089.2 607.1 1084.7 611 1083C615 1081.3 622.4 1080.7 626.4 1083C630.4 1085.2 634.1 1091.5 635 1096.6C635.8 1101.8 633.5 1108.9 631.5 1113.7C629.5 1118.6 625.8 1123.4 623 1125.7C620.2 1127.9 616.5 1129.4 614.5 1127.4C612.5 1125.4 612.7 1117.1 611 1113.7C609.3 1110.3 605.6 1110.3 604.2 1106.9C602.8 1103.5 601.4 1097.2 602.5 1093.2Z" fill="#efe3bc" stroke="#d9c090" stroke-width="1"/>
<path d="M523.1 1167.5C523.7 1165.8 528.1 1163.1 532.5 1163.2C536.9 1163.4 544.7 1165.5 549.6 1168.4C554.4 1171.2 562.7 1178.9 561.5 1180.3C560.4 1181.7 548.1 1178 542.7 1176.9C537.3 1175.8 532.3 1175.1 529.1 1173.5C525.8 1171.9 522.5 1169.2 523.1 1167.5Z" fill="#f3ead8"/>
<path d="M520.5 1182C520.5 1179.2 527.1 1175.8 532.5 1175.2C537.9 1174.6 547.3 1176.9 553 1178.6C558.7 1180.3 567.2 1182.9 566.6 1185.4C566.1 1188 555.2 1192.8 549.6 1194C543.9 1195.1 537.3 1194.3 532.5 1192.3C527.6 1190.3 520.5 1184.9 520.5 1182Z" fill="#f3ead8"/>
<path d="M559.8 1194C561.5 1191.1 567.9 1188 570.1 1188.9C572.2 1189.7 572.9 1196 572.6 1199.1C572.3 1202.2 570.5 1206.5 568.3 1207.7C566.2 1208.8 561.2 1208.2 559.8 1205.9C558.4 1203.7 558.1 1196.8 559.8 1194Z" fill="#f3ead8"/>
<path d="M556.4 1167.5C558.1 1169.6 563.8 1176.8 566.6 1180.3C569.5 1183.9 572.3 1187.4 573.5 1188.9" fill="none" stroke="#8a5a40" stroke-width="2.4" stroke-linecap="round"/>
</g>
<g id="butterfly">
<path d="M537.8 892.6C531.7 891.5 514.3 889.5 500.9 886.1C487.5 882.6 471.9 877 457.4 872C442.9 866.9 428.4 861.8 413.9 855.7C399.4 849.5 382 841.9 370.4 835C358.8 828.1 346.5 819.6 344.3 814.3C342.2 809.1 352.3 807.5 357.4 803.5C362.5 799.5 373.3 794.1 374.8 790.4C376.2 786.8 370.4 782.5 366.1 781.7C361.7 781 352.7 783.2 348.7 786.1C344.7 789 342.5 794.4 342.2 799.1C341.8 803.8 349.1 811.1 346.5 814.3C344 817.6 333.8 816.2 327 818.7C320.1 821.2 312.1 824.1 305.2 829.6C298.3 835 290.4 843.3 285.7 851.3C280.9 859.3 278.8 868.7 277 877.4C275.1 886.1 276.2 894.8 274.8 903.5C273.3 912.2 270.4 922.3 268.3 929.6C266.1 936.8 262.8 944.1 261.7 947" fill="none" stroke="#c9a070" stroke-width="1.6" stroke-dasharray="12 13"/>
<ellipse cx="535.7" cy="853.5" rx="42.4" ry="28.3" fill="url(#bw)" transform="rotate(25 535.7 853.5)"/>
<ellipse cx="585.7" cy="835" rx="42.4" ry="45.7" fill="url(#bw)" transform="rotate(30 585.7 835)"/>
<ellipse cx="537.8" cy="929.6" rx="42.4" ry="28.3" fill="url(#bw)" transform="rotate(-22 537.8 929.6)"/>
<ellipse cx="585.7" cy="950.2" rx="39.1" ry="48.9" fill="url(#bw)" transform="rotate(-12 585.7 950.2)"/>
<path d="M579.1 881.7C579.1 877.4 582.8 869.4 587.8 864.3C592.9 859.3 608.1 849.1 609.6 851.3C611 853.5 600.1 870.9 596.5 877.4C592.9 883.9 590.7 889.7 587.8 890.4C584.9 891.2 579.1 886.1 579.1 881.7Z" fill="#6baaa5" stroke="none" opacity="0.8"/>
<path d="M579.1 901.3C580.6 899.9 590.7 905.7 596.5 912.2C602.3 918.7 610.3 931.4 613.9 940.4C617.5 949.5 619.7 965.4 618.3 966.5C616.8 967.6 610.3 954.6 605.2 947C600.1 939.3 592.2 928.5 587.8 920.9C583.5 913.3 577.7 902.8 579.1 901.3Z" fill="#6baaa5" stroke="none" opacity="0.8"/>
<path d="M540 890.4C540 889 556.7 887.5 566.1 887.2C575.5 886.8 590.5 887.5 596.5 888.3C602.5 889 602 890.3 602 891.5C602 892.8 602.5 895.1 596.5 895.9C590.5 896.6 575.5 896.8 566.1 895.9C556.7 895 540 891.9 540 890.4Z" fill="#5ea59a"/>
<path d="M561.7 890.4C564.6 890.4 574.1 890.1 579.1 890.4C584.2 890.8 590 892.2 592.2 892.6" fill="none" stroke="#5e3040" stroke-width="2.2" stroke-dasharray="2 2"/>
<path d="M598.7 889.3C600.5 887.7 604.1 881.8 609.6 879.6C615 877.3 627.7 876.3 631.3 875.7" fill="none" stroke="#6baaa5" stroke-width="1.4"/>
<path d="M598.7 893.7C601.2 894.6 608.3 898.2 613.9 899.1C619.5 900 629.3 899.1 632.4 899.1" fill="none" stroke="#6baaa5" stroke-width="1.4"/>
</g>
<g id="blossoms">
<path d="M711.9 629.6C693 628.5 670.4 633 648.3 639.8C636.6 643.6 631.2 645.7 633 653C634.9 660.4 640.7 659.7 652.8 657.3C675.4 652.8 697.4 645.9 713.6 635.9Z" fill="url(#bp)" stroke="#dcb4bc" stroke-width="1"/>
<path d="M713 627.9C697.7 619 677.9 616.4 657.9 617.3C647.2 618 642.2 618.8 641.7 629.9C641.3 640.9 646.2 642.2 656.8 643.7C676.6 646.2 696.6 645.2 712.6 637.6Z" fill="url(#bp)" stroke="#dcb4bc" stroke-width="1"/>
<path d="M724.6 621.1C725.3 601.3 715.4 586.5 701.1 575.9C693.2 570.5 688.9 568.6 675.1 582C661.2 595.4 663 599.8 668.1 607.9C678.3 622.5 692.7 632.9 712.5 632.8Z" fill="url(#bp)" stroke="#dcb4bc" stroke-width="1"/>
<path d="M696.8 632.8C698.7 630.1 707.7 627 712.8 625.5C717.8 624.1 724.1 621.9 727.2 624.1C730.4 626.2 729.9 634 731.6 638.6C733.3 643.1 737.6 649.2 737.4 651.6C737.1 654 734.3 654.3 730.1 653C726 651.8 717.6 646.3 712.8 644.3C707.9 642.4 703.8 643.4 701.2 641.4C698.5 639.5 694.9 635.4 696.8 632.8Z" fill="#c49a5e"/>
<path d="M696.8 632.8C697.8 630.8 708.6 626.7 712.8 627C716.9 627.2 722.4 632.3 721.4 634.2C720.5 636.1 711.1 638.8 707 638.6C702.9 638.3 695.8 634.7 696.8 632.8Z" fill="#c48a84" stroke="none" opacity="0.8"/>
<path d="M803.8 627C805.8 601.9 794.3 580.3 777.2 562.8C767.7 553.6 762.5 550 744.6 563.2C726.8 576.4 728.8 582.5 734.7 594.2C746.5 615.7 763.7 633 788.3 638.5Z" fill="url(#bp)" stroke="#dcb4bc" stroke-width="1"/>
<path d="M800 626.2C790.3 605.2 770.9 590.2 748.6 579.8C736.5 574.6 730.5 572.8 721.4 587.8C712.4 602.8 716.8 607.4 727.1 615.6C746.7 630.4 769 640.6 792.2 639.3Z" fill="url(#bp)" stroke="#dcb4bc" stroke-width="1"/>
<path d="M789.2 626C765.8 626.2 748.5 638.7 736 656C729.6 665.6 727.4 670.8 743.2 686.4C759 701.9 764.1 699.6 773.6 693.1C790.8 680.5 803.1 662.9 802.9 639.5Z" fill="url(#bp)" stroke="#dcb4bc" stroke-width="1"/>
<path d="M786.7 636.7C777.2 659 782.1 680.3 793.6 698.9C800.2 708.6 804.3 712.8 825.8 703.8C847.3 694.8 847.2 689 844.9 677.4C839.8 656.2 828 637.7 805.4 628.8Z" fill="url(#bp)" stroke="#dcb4bc" stroke-width="1"/>
<path d="M796.4 642.9C816 659.6 840.3 662.6 864.3 658.3C877.1 655.6 883.1 653.2 882.3 629.9C881.5 606.5 875.4 604.6 862.4 602.7C838.2 600 814.1 604.6 795.7 622.6Z" fill="url(#bp)" stroke="#dcb4bc" stroke-width="1"/>
<path d="M806.8 635.8C830.5 622.1 841.2 599.3 844.2 574.3C845.3 560.8 844.7 554.2 820 547.2C795.3 540.3 791.3 545.7 785.3 557.8C774.9 580.7 772.2 605.8 785.3 629.7Z" fill="url(#bp)" stroke="#dcb4bc" stroke-width="1"/>
<path d="M725.2 707.6C735.7 689.6 734.2 670.2 727 652.2C722.7 642.7 719.9 638.4 701.2 642.9C682.4 647.4 681.8 652.5 682.3 662.9C684 682.2 691.5 700.2 709 711.5Z" fill="url(#bp)" stroke="#dcb4bc" stroke-width="1"/>
<path d="M719.4 717.9C739.4 727.6 760.5 725 780 716.5C790.3 711.6 794.9 708.4 789.6 689.3C784.2 670.2 778.6 669.8 767.2 671C746.2 673.8 726.7 682.6 714.8 701.3Z" fill="url(#bp)" stroke="#dcb4bc" stroke-width="1"/>
<path d="M709.5 713.7C704.8 736 712.5 757 725.7 775.1C733.1 784.6 737.3 788.6 754.8 779.1C772.2 769.7 771.2 763.9 767.3 752.6C759.3 731.7 746 713.7 724.7 705.5Z" fill="url(#bp)" stroke="#dcb4bc" stroke-width="1"/>
<path d="M710 706.8C691.4 718.7 680.7 738.8 675 760.9C672.3 772.8 671.8 778.6 688.1 784.9C704.4 791.2 708 786.5 714 775.8C724.5 755.7 730 733.6 724.2 712.3Z" fill="url(#bp)" stroke="#dcb4bc" stroke-width="1"/>
<path d="M716.1 700.7C697.5 687.5 675.6 686.7 654.4 692.2C643.2 695.5 638 698 640.3 718.3C642.6 738.5 648.2 739.8 659.9 740.5C681.8 741.1 702.9 735.4 718.1 718.4Z" fill="url(#bp)" stroke="#dcb4bc" stroke-width="1"/>
<circle cx="796.1" cy="632.8" r="10.1" fill="#d9a0a4" opacity="0.7"/>
<line x1="796.1" y1="632.8" x2="814.9" y2="638.6" stroke="#a86a5a" stroke-width="1.1"/>
<circle cx="814.9" cy="638.6" r="2.2" fill="#fdc648"/>
<line x1="796.1" y1="632.8" x2="811.6" y2="649.5" stroke="#a86a5a" stroke-width="1.1"/>
<circle cx="811.6" cy="649.5" r="2.2" fill="#fdc648"/>
<line x1="796.1" y1="632.8" x2="801.8" y2="658" stroke="#a86a5a" stroke-width="1.1"/>
<circle cx="801.8" cy="658" r="2.2" fill="#fdc648"/>
<line x1="796.1" y1="632.8" x2="790.3" y2="651.6" stroke="#a86a5a" stroke-width="1.1"/>
<circle cx="790.3" cy="651.6" r="2.2" fill="#fdc648"/>
<line x1="796.1" y1="632.8" x2="779.4" y2="648.2" stroke="#a86a5a" stroke-width="1.1"/>
<circle cx="779.4" cy="648.2" r="2.2" fill="#fdc648"/>
<line x1="796.1" y1="632.8" x2="770.9" y2="638.5" stroke="#a86a5a" stroke-width="1.1"/>
<circle cx="770.9" cy="638.5" r="2.2" fill="#fdc648"/>
<line x1="796.1" y1="632.8" x2="777.3" y2="626.9" stroke="#a86a5a" stroke-width="1.1"/>
<circle cx="777.3" cy="626.9" r="2.2" fill="#fdc648"/>
<line x1="796.1" y1="632.8" x2="780.6" y2="616" stroke="#a86a5a" stroke-width="1.1"/>
<circle cx="780.6" cy="616" r="2.2" fill="#fdc648"/>
<line x1="796.1" y1="632.8" x2="790.4" y2="607.5" stroke="#a86a5a" stroke-width="1.1"/>
<circle cx="790.4" cy="607.5" r="2.2" fill="#fdc648"/>
<line x1="796.1" y1="632.8" x2="801.9" y2="613.9" stroke="#a86a5a" stroke-width="1.1"/>
<circle cx="801.9" cy="613.9" r="2.2" fill="#fdc648"/>
<line x1="796.1" y1="632.8" x2="812.8" y2="617.3" stroke="#a86a5a" stroke-width="1.1"/>
<circle cx="812.8" cy="617.3" r="2.2" fill="#fdc648"/>
<line x1="796.1" y1="632.8" x2="821.3" y2="627" stroke="#a86a5a" stroke-width="1.1"/>
<circle cx="821.3" cy="627" r="2.2" fill="#fdc648"/>
<circle cx="796.1" cy="632.8" r="4.9" fill="#5e3428"/>
<circle cx="717.1" cy="709.6" r="10.1" fill="#d9a0a4" opacity="0.7"/>
<line x1="717.1" y1="709.6" x2="735.9" y2="715.4" stroke="#a86a5a" stroke-width="1.1"/>
<circle cx="735.9" cy="715.4" r="2.2" fill="#fdc648"/>
<line x1="717.1" y1="709.6" x2="732.6" y2="726.3" stroke="#a86a5a" stroke-width="1.1"/>
<circle cx="732.6" cy="726.3" r="2.2" fill="#fdc648"/>
<line x1="717.1" y1="709.6" x2="722.8" y2="734.8" stroke="#a86a5a" stroke-width="1.1"/>
<circle cx="722.8" cy="734.8" r="2.2" fill="#fdc648"/>
<line x1="717.1" y1="709.6" x2="711.3" y2="728.4" stroke="#a86a5a" stroke-width="1.1"/>
<circle cx="711.3" cy="728.4" r="2.2" fill="#fdc648"/>
<line x1="717.1" y1="709.6" x2="700.4" y2="725.1" stroke="#a86a5a" stroke-width="1.1"/>
<circle cx="700.4" cy="725.1" r="2.2" fill="#fdc648"/>
<line x1="717.1" y1="709.6" x2="691.9" y2="715.3" stroke="#a86a5a" stroke-width="1.1"/>
<circle cx="691.9" cy="715.3" r="2.2" fill="#fdc648"/>
<line x1="717.1" y1="709.6" x2="698.3" y2="703.7" stroke="#a86a5a" stroke-width="1.1"/>
<circle cx="698.3" cy="703.7" r="2.2" fill="#fdc648"/>
<line x1="717.1" y1="709.6" x2="701.6" y2="692.8" stroke="#a86a5a" stroke-width="1.1"/>
<circle cx="701.6" cy="692.8" r="2.2" fill="#fdc648"/>
<line x1="717.1" y1="709.6" x2="711.4" y2="684.3" stroke="#a86a5a" stroke-width="1.1"/>
<circle cx="711.4" cy="684.3" r="2.2" fill="#fdc648"/>
<line x1="717.1" y1="709.6" x2="722.9" y2="690.7" stroke="#a86a5a" stroke-width="1.1"/>
<circle cx="722.9" cy="690.7" r="2.2" fill="#fdc648"/>
<line x1="717.1" y1="709.6" x2="733.8" y2="694.1" stroke="#a86a5a" stroke-width="1.1"/>
<circle cx="733.8" cy="694.1" r="2.2" fill="#fdc648"/>
<line x1="717.1" y1="709.6" x2="742.3" y2="703.8" stroke="#a86a5a" stroke-width="1.1"/>
<circle cx="742.3" cy="703.8" r="2.2" fill="#fdc648"/>
<circle cx="717.1" cy="709.6" r="4.9" fill="#5e3428"/>
</g>
<g transform="translate(1003.6 129.7) rotate(-2.4)" font-size="52" text-anchor="middle">
<text x="0" y="0" transform="scale(1.15 1)">10% скидка на</text>
<text x="0" y="67.9" transform="scale(1.15 1)">стартовый</text>
<text x="0" y="135.8" transform="scale(1.15 1)">пакет</text>
<text x="0" y="203.7" transform="scale(1.15 1)">обучения в</text>
<text x="0" y="271.6" transform="scale(1.15 1)">группе</text>
</g>
<g transform="translate(1568.4 327) rotate(39.7)" font-size="53.5" text-anchor="middle">
<text x="0" y="0" transform="scale(1.14 1)">Скидка 1000 ₽ на</text>
<text x="0" y="79" transform="scale(1.14 1)">стартовый пакет</text>
<text x="0" y="158" transform="scale(1.14 1)">индивидуальных</text>
<text x="0" y="237" transform="scale(1.14 1)">занятий по</text>
<text x="0" y="316" transform="scale(1.14 1)">китайскому</text>
</g>
<g transform="translate(1877 784.7) rotate(74.1)" font-size="51" text-anchor="middle">
<text x="0" y="0" transform="scale(1.14 1)">Бесплатный</text>
<text x="0" y="68.3" transform="scale(1.14 1)">пробный</text>
<text x="0" y="136.6" transform="scale(1.14 1)">период</text>
</g>
<g transform="translate(1874.8 1291.1) rotate(109.3)" font-size="52" text-anchor="middle">
<text x="0" y="0" transform="scale(1.14 1)">Прописи</text>
<text x="0" y="67.9" transform="scale(1.14 1)">цифры и</text>
<text x="0" y="135.8" transform="scale(1.14 1)">цвета на</text>
<text x="0" y="203.7" transform="scale(1.21 1)">китайском</text>
</g>
<g transform="translate(1560 1700) rotate(144)" font-size="52" text-anchor="middle">
<text x="0" y="0" transform="scale(1.12 1)">Буклет &quot;Скорая</text>
<text x="0" y="68" transform="scale(1.19 1)">грамматическая</text>
<text x="0" y="136" transform="scale(1.17 1)">помощь&quot;</text>
</g>
<g transform="translate(1050 1925) rotate(176.5)" font-size="52" text-anchor="middle">
<text x="0" y="0" transform="scale(1.14 1)">20 популярных</text>
<text x="0" y="68" transform="scale(1.14 1)">разговорных</text>
<text x="0" y="136" transform="scale(1.14 1)">фраз на</text>
<text x="0" y="204" transform="scale(1.21 1)">китайском</text>
</g>
<g transform="translate(485.7 1724.7) rotate(218)" font-size="52" text-anchor="middle">
<text x="0" y="0" transform="scale(1.14 1)">Посещение</text>
<text x="0" y="79.2" transform="scale(1.14 1)">разговорного</text>
<text x="0" y="158.4" transform="scale(1.14 1)">клуба</text>
<text x="0" y="237.6" transform="scale(1.14 1)">английского</text>
<text x="0" y="316.8" transform="scale(1.14 1)">языка</text>
</g>
<g transform="translate(152.8 1293.8) rotate(251.8)" font-size="49.5" text-anchor="middle">
<text x="0" y="0" transform="scale(1.14 1)">3 урока в</text>
<text x="0" y="67.6" transform="scale(1.14 1)">подарок в</text>
<text x="0" y="135.2" transform="scale(1.14 1)">группе при</text>
<text x="0" y="202.8" transform="scale(1.14 1)">покупке</text>
<text x="0" y="270.4" transform="scale(1.14 1)">любого</text>
<text x="0" y="338" transform="scale(1.14 1)">пакета</text>
</g>
<g transform="translate(160 760) rotate(-73)" font-size="52" text-anchor="middle">
<text x="0" y="0" transform="scale(1.14 1)">Визуал</text>
<text x="0" y="68" transform="scale(1.14 1)">&quot;Времена</text>
<text x="0" y="136" transform="scale(1.14 1)">английского&quot;</text>
</g>
<g transform="translate(470.2 305.5) rotate(-36.5)" font-size="52" text-anchor="middle">
<text x="0" y="0" transform="scale(1.08 1)">3 урока в</text>
<text x="0" y="65.8" transform="scale(1.14 1)">подарок на</text>
<text x="0" y="131.6" transform="scale(1.14 1)">индивидуальные</text>
<text x="0" y="197.4" transform="scale(1.14 1)">занятия при</text>
<text x="0" y="263.2" transform="scale(1.14 1)">покупке пакета</text>
<text x="0" y="329" transform="scale(1.14 1)">от 8 занятий</text>
</g>
</svg></body></html>
